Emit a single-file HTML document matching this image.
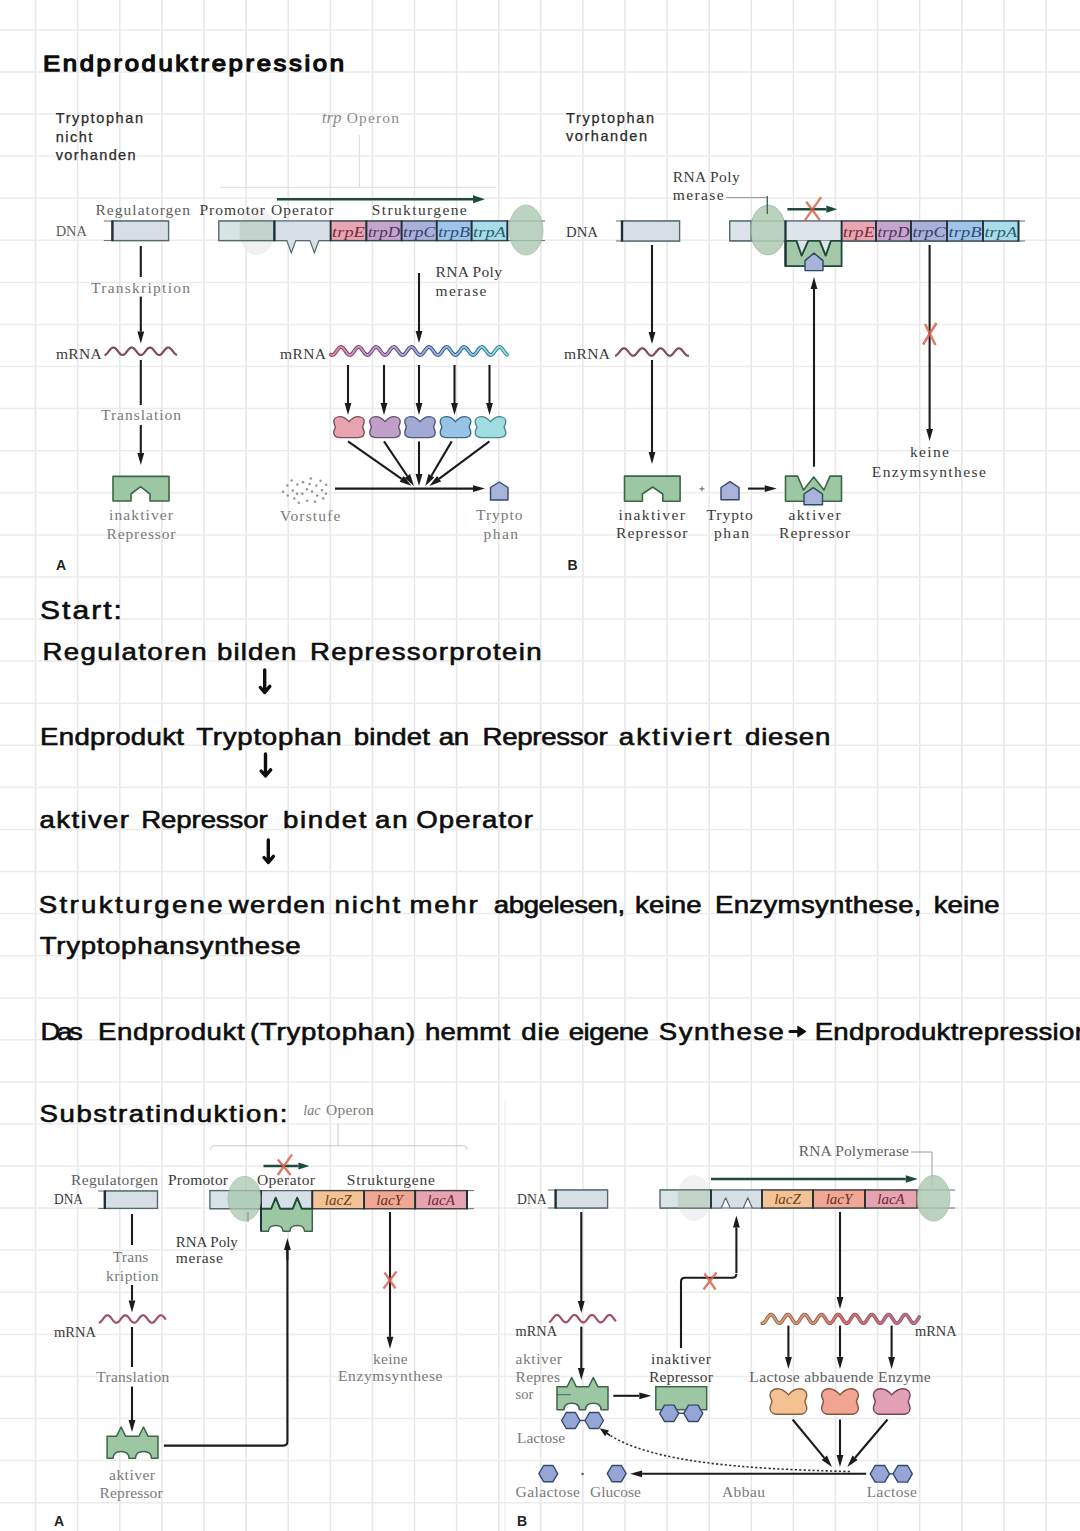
<!DOCTYPE html>
<html><head><meta charset="utf-8"><title>Endproduktrepression</title>
<style>
html,body{margin:0;padding:0;background:#fff;width:1080px;height:1531px;overflow:hidden}
svg{display:block}
.hw{font-family:"Liberation Sans",sans-serif;font-weight:normal;fill:#0d0d0d;font-size:23px;stroke:#0d0d0d;stroke-width:0.6px;stroke-linejoin:round;stroke-linecap:round}
.lb{font-family:"Liberation Serif",serif;fill:#5e5e5e;font-size:15.5px}
.dk{fill:#3a3a3a}
.lt{fill:#7a7a7a}
.lbi{font-family:"Liberation Serif",serif;font-style:italic;font-size:14px}
.ls{font-family:"Liberation Sans",sans-serif;fill:#2a2a2a;font-size:14.5px;stroke:#2a2a2a;stroke-width:0.25px}
.bl{font-family:"Liberation Sans",sans-serif;font-weight:bold;fill:#222;font-size:14px}
</style></head><body>
<svg width="1080" height="1531" viewBox="0 0 1080 1531">
<rect width="1080" height="1531" fill="#fff"/>
<g fill="none">
<path d="M35.6 0V1531M77.7 0V1531M119.8 0V1531M161.9 0V1531M204.0 0V1531M246.1 0V1531M288.2 0V1531M330.3 0V1531M372.4 0V1531M414.5 0V1531M456.6 0V1531M498.7 0V1531M540.8 0V1531M582.9 0V1531M625.0 0V1531M667.1 0V1531M709.2 0V1531M751.3 0V1531M793.4 0V1531M835.5 0V1531M877.6 0V1531M919.7 0V1531M961.8 0V1531M1003.9 0V1531M1046.0 0V1531" stroke="#e6e6e6" stroke-width="1.5"/>
<path d="M0 29.9H1080M0 72.0H1080M0 114.1H1080M0 156.1H1080M0 198.2H1080M0 240.3H1080M0 282.4H1080M0 324.5H1080M0 366.5H1080M0 408.6H1080M0 450.7H1080M0 492.8H1080M0 534.9H1080M0 576.9H1080M0 619.0H1080M0 661.1H1080M0 703.2H1080M0 745.3H1080M0 787.3H1080M0 829.4H1080M0 871.5H1080M0 913.6H1080M0 955.7H1080M0 997.7H1080M0 1039.8H1080M0 1081.9H1080M0 1124.0H1080M0 1166.1H1080M0 1208.1H1080M0 1250.2H1080M0 1292.3H1080M0 1334.4H1080M0 1376.5H1080M0 1418.5H1080M0 1460.6H1080M0 1502.7H1080" stroke="#ebebeb" stroke-width="1.5"/>
</g>
<ellipse cx="257" cy="231" rx="18" ry="24" fill="#eeeeee" opacity="0.8"/>
<ellipse cx="694" cy="1198" rx="17" ry="23" fill="#ededed" opacity="0.8"/>
<g class="hw">
<text transform="translate(43 70.8) scale(1.12 1)" x="0" y="0" textLength="268.8" lengthAdjust="spacing" style="stroke-width:1.3px">Endproduktrepression</text>
<text transform="translate(40 619) scale(1.2 1)" x="0" y="0" textLength="68.3" lengthAdjust="spacing" style="font-size:25px">Start:</text>
<text transform="translate(42.5 660.2) scale(1.2 1)" x="0" y="0" textLength="136.7" lengthAdjust="spacing">Regulatoren</text>
<text transform="translate(217 660.2) scale(1.2 1)" x="0" y="0" textLength="66.2" lengthAdjust="spacing">bilden</text>
<text transform="translate(310 660.2) scale(1.2 1)" x="0" y="0" textLength="192.9" lengthAdjust="spacing">Repressorprotein</text>
<text transform="translate(40 745.3) scale(1.2 1)" x="0" y="0" textLength="120.0" lengthAdjust="spacing">Endprodukt</text>
<text transform="translate(196.3 745.3) scale(1.2 1)" x="0" y="0" textLength="121.0" lengthAdjust="spacing">Tryptophan</text>
<text transform="translate(353.8 745.3) scale(1.2 1)" x="0" y="0" textLength="63.5" lengthAdjust="spacing">bindet</text>
<text transform="translate(438.8 745.3) scale(1.2 1)" x="0" y="0" textLength="25.2" lengthAdjust="spacing">an</text>
<text transform="translate(482.5 745.3) scale(1.2 1)" x="0" y="0" textLength="104.3" lengthAdjust="spacing">Repressor</text>
<text transform="translate(618.8 745.3) scale(1.2 1)" x="0" y="0" textLength="93.9" lengthAdjust="spacing">aktiviert</text>
<text transform="translate(745 745.3) scale(1.2 1)" x="0" y="0" textLength="71.1" lengthAdjust="spacing">diesen</text>
<text transform="translate(39.5 828.3) scale(1.2 1)" x="0" y="0" textLength="74.6" lengthAdjust="spacing">aktiver</text>
<text transform="translate(141.3 828.3) scale(1.2 1)" x="0" y="0" textLength="105.3" lengthAdjust="spacing">Repressor</text>
<text transform="translate(283 828.3) scale(1.2 1)" x="0" y="0" textLength="69.6" lengthAdjust="spacing">bindet</text>
<text transform="translate(375 828.3) scale(1.2 1)" x="0" y="0" textLength="27.2" lengthAdjust="spacing">an</text>
<text transform="translate(416.3 828.3) scale(1.2 1)" x="0" y="0" textLength="97.2" lengthAdjust="spacing">Operator</text>
<text transform="translate(38.8 912.8) scale(1.2 1)" x="0" y="0" textLength="153.2" lengthAdjust="spacing">Strukturgene</text>
<text transform="translate(228.8 912.8) scale(1.2 1)" x="0" y="0" textLength="80.3" lengthAdjust="spacing">werden</text>
<text transform="translate(334.5 912.8) scale(1.2 1)" x="0" y="0" textLength="54.7" lengthAdjust="spacing">nicht</text>
<text transform="translate(409.5 912.8) scale(1.2 1)" x="0" y="0" textLength="56.8" lengthAdjust="spacing">mehr</text>
<text transform="translate(493.8 912.8) scale(1.2 1)" x="0" y="0" textLength="109.5" lengthAdjust="spacing">abgelesen,</text>
<text transform="translate(635 912.8) scale(1.2 1)" x="0" y="0" textLength="55.4" lengthAdjust="spacing">keine</text>
<text transform="translate(715 912.8) scale(1.2 1)" x="0" y="0" textLength="172.1" lengthAdjust="spacing">Enzymsynthese,</text>
<text transform="translate(933.8 912.8) scale(1.2 1)" x="0" y="0" textLength="54.9" lengthAdjust="spacing">keine</text>
<text transform="translate(39.7 953.6) scale(1.2 1)" x="0" y="0" textLength="217.5" lengthAdjust="spacing">Tryptophansynthese</text>
<text transform="translate(40.5 1040.2) scale(1.2 1)" x="0" y="0" textLength="35.2" lengthAdjust="spacing">Das</text>
<text transform="translate(98 1040.2) scale(1.2 1)" x="0" y="0" textLength="122.2" lengthAdjust="spacing">Endprodukt</text>
<text transform="translate(250 1040.2) scale(1.2 1)" x="0" y="0" textLength="137.7" lengthAdjust="spacing">(Tryptophan)</text>
<text transform="translate(425 1040.2) scale(1.2 1)" x="0" y="0" textLength="71.0" lengthAdjust="spacing">hemmt</text>
<text transform="translate(521.3 1040.2) scale(1.2 1)" x="0" y="0" textLength="32.0" lengthAdjust="spacing">die</text>
<text transform="translate(568.8 1040.2) scale(1.2 1)" x="0" y="0" textLength="66.8" lengthAdjust="spacing">eigene</text>
<text transform="translate(658.8 1040.2) scale(1.2 1)" x="0" y="0" textLength="104.3" lengthAdjust="spacing">Synthese</text>
<text transform="translate(814.7 1040.2) scale(1.2 1)" x="0" y="0" textLength="229.4" lengthAdjust="spacing">Endproduktrepression</text>
<text transform="translate(39.5 1122.3) scale(1.2 1)" x="0" y="0" textLength="206.7" lengthAdjust="spacing">Substratinduktion:</text>
</g>
<path d="M790 1031.5H800" stroke="#0d0d0d" stroke-width="3" stroke-linecap="round"/><path d="M798 1026.5L805.5 1031.5L798 1036.5Z" fill="#0d0d0d" stroke="#0d0d0d" stroke-width="1.5" stroke-linejoin="round"/>
<g stroke="#0d0d0d" stroke-width="3.4" fill="none" stroke-linecap="round" stroke-linejoin="round"><path d="M264.7 670V692.5M260.4 687.5L264.7 692.5L269.8 686.4"/><path d="M265.5 754V776M261.2 771L265.5 776L270.6 769.9"/><path d="M268.3 840V862.5M264 857.5L268.3 862.5L273.4 856.4"/></g>
<text x="55.7" y="123" class="ls" textLength="87.3">Tryptophan</text>
<text x="55.7" y="141.5" class="ls" textLength="36.7">nicht</text>
<text x="55.7" y="159.5" class="ls" textLength="80">vorhanden</text>
<text x="321.7" y="123.3" class="lbi" fill="#8a8a8a" style="font-size:16px" textLength="20" lengthAdjust="spacingAndGlyphs">trp</text>
<path d="M359.3 135V187.3M220 187.3H496.7" stroke="#dadada" stroke-width="1" fill="none"/>
<path d="M277.0 199.3L473.0 199.3" stroke="#1d4a3a" stroke-width="2.6" fill="none"/><path d="M473.0 203.3L485.0 199.3L473.0 195.3Z" fill="#1d4a3a"/>
<path d="M103.8 221H168.6M103.8 240.6H168.6" stroke="#5a7075" stroke-width="1.0" fill="none"/>
<rect x="112.4" y="221" width="56.19999999999999" height="19.599999999999994" fill="#d6dfe6" stroke="#55686b" stroke-width="1.4"/>
<path d="M112.4 220.5V241.1" stroke="#1f3138" stroke-width="2.4"/>
<path d="M218.8 221H545M218.8 240.6H545" stroke="#5a7075" stroke-width="1.0" fill="none"/>
<rect x="218.8" y="221" width="55.599999999999966" height="19.599999999999994" fill="#d7e4e4" stroke="#55686b" stroke-width="1.4"/>
<rect x="239.7" y="221.7" width="34.2" height="18.2" fill="#b9cdc3" opacity="0.7"/>
<path d="M274.4 221H330.6V240.6H318.9L314.4 252.8L309.9 240.6H295.8L291.3 252.8L286.8 240.6H274.4Z" fill="#d6dfe6" stroke="#55686b" stroke-width="1.2"/>
<path d="M274.4 220.5V241.1" stroke="#1f3138" stroke-width="2.4"/>
<rect x="330.6" y="221" width="35.799999999999955" height="19.599999999999994" fill="#e8a6b3" stroke="#3a4a55" stroke-width="1.4"/>
<text x="348.5" y="236.5" class="lbi" text-anchor="middle" fill="#7a2a3a" style="font-size:15px" textLength="32.8" lengthAdjust="spacingAndGlyphs">trpE</text>
<rect x="366.4" y="221" width="35.200000000000045" height="19.599999999999994" fill="#c4a6cc" stroke="#3a4a55" stroke-width="1.4"/>
<text x="384.0" y="236.5" class="lbi" text-anchor="middle" fill="#55305f" style="font-size:15px" textLength="32.2" lengthAdjust="spacingAndGlyphs">trpD</text>
<rect x="401.6" y="221" width="35.099999999999966" height="19.599999999999994" fill="#aab0d8" stroke="#3a4a55" stroke-width="1.4"/>
<text x="419.1" y="236.5" class="lbi" text-anchor="middle" fill="#34406e" style="font-size:15px" textLength="32.1" lengthAdjust="spacingAndGlyphs">trpC</text>
<rect x="436.7" y="221" width="34.900000000000034" height="19.599999999999994" fill="#a0c4e8" stroke="#3a4a55" stroke-width="1.4"/>
<text x="454.1" y="236.5" class="lbi" text-anchor="middle" fill="#27507a" style="font-size:15px" textLength="31.9" lengthAdjust="spacingAndGlyphs">trpB</text>
<rect x="471.6" y="221" width="35.799999999999955" height="19.599999999999994" fill="#a8dce8" stroke="#3a4a55" stroke-width="1.4"/>
<text x="489.5" y="236.5" class="lbi" text-anchor="middle" fill="#245f6a" style="font-size:15px" textLength="32.8" lengthAdjust="spacingAndGlyphs">trpA</text>
<path d="M330.6 220.5V241.1" stroke="#1f3138" stroke-width="1.8"/>
<path d="M366.4 220.5V241.1" stroke="#1f3138" stroke-width="1.8"/>
<path d="M401.6 220.5V241.1" stroke="#1f3138" stroke-width="1.8"/>
<path d="M436.7 220.5V241.1" stroke="#1f3138" stroke-width="1.8"/>
<path d="M471.6 220.5V241.1" stroke="#1f3138" stroke-width="1.8"/>
<path d="M507.4 220.5V241.1" stroke="#1f3138" stroke-width="1.8"/>
<ellipse cx="526" cy="230" rx="17" ry="25" fill="#a9c7ae" opacity="0.78" stroke="#8fb096" stroke-width="0.8"/>
<path d="M140.8 246L140.8 277" stroke="#1b1b1b" stroke-width="2.1" fill="none"/>
<path d="M140.8 296.6V331.6" stroke="#1b1b1b" stroke-width="2.1" fill="none"/><path d="M137.4 331.6L140.8 343.6L144.20000000000002 331.6Z" fill="#1b1b1b"/>
<path d="M104.5,354.99 L105.0,354.88 L105.5,354.66 L106.0,354.34 L106.5,353.94 L107.0,353.45 L107.5,352.90 L108.0,352.30 L108.5,351.67 L109.0,351.02 L109.5,350.39 L110.0,349.78 L110.5,349.21 L111.0,348.70 L111.5,348.27 L112.0,347.92 L112.5,347.68 L113.0,347.54 L113.5,347.50 L114.0,347.58 L114.5,347.76 L115.0,348.05 L115.5,348.43 L116.0,348.90 L116.5,349.43 L117.0,350.02 L117.5,350.64 L118.0,351.28 L118.5,351.92 L119.0,352.54 L119.5,353.12 L120.0,353.65 L120.5,354.11 L121.0,354.48 L121.5,354.76 L122.0,354.93 L122.5,355.00 L123.0,354.96 L123.5,354.80 L124.0,354.54 L124.5,354.19 L125.0,353.75 L125.5,353.24 L126.0,352.66 L126.5,352.05 L127.0,351.41 L127.5,350.77 L128.0,350.14 L128.5,349.54 L129.0,349.00 L129.5,348.52 L130.0,348.12 L130.5,347.81 L131.0,347.61 L131.5,347.51 L132.0,347.52 L132.5,347.64 L133.0,347.87 L133.5,348.19 L134.0,348.61 L134.5,349.10 L135.0,349.66 L135.5,350.26 L136.0,350.90 L136.5,351.54 L137.0,352.17 L137.5,352.78 L138.0,353.34 L138.5,353.84 L139.0,354.27 L139.5,354.60 L140.0,354.84 L140.5,354.97 L141.0,355.00 L141.5,354.91 L142.0,354.71 L142.5,354.41 L143.0,354.02 L143.5,353.55 L144.0,353.01 L144.5,352.42 L145.0,351.80 L145.5,351.15 L146.0,350.51 L146.5,349.90 L147.0,349.32 L147.5,348.80 L148.0,348.35 L148.5,347.99 L149.0,347.72 L149.5,347.56 L150.0,347.50 L150.5,347.56 L151.0,347.72 L151.5,347.99 L152.0,348.35 L152.5,348.80 L153.0,349.32 L153.5,349.90 L154.0,350.51 L154.5,351.15 L155.0,351.80 L155.5,352.42 L156.0,353.01 L156.5,353.55 L157.0,354.02 L157.5,354.41 L158.0,354.71 L158.5,354.91 L159.0,355.00 L159.5,354.97 L160.0,354.84 L160.5,354.60 L161.0,354.27 L161.5,353.84 L162.0,353.34 L162.5,352.78 L163.0,352.17 L163.5,351.54 L164.0,350.90 L164.5,350.26 L165.0,349.66 L165.5,349.10 L166.0,348.61 L166.5,348.19 L167.0,347.87 L167.5,347.64 L168.0,347.52 L168.5,347.51 L169.0,347.61 L169.5,347.81 L170.0,348.12 L170.5,348.52 L171.0,349.00 L171.5,349.54 L172.0,350.14 L172.5,350.77 L173.0,351.41 L173.5,352.05 L174.0,352.66 L174.5,353.24 L175.0,353.75 L175.5,354.19 L176.0,354.54 L176.5,354.80 L177.0,354.96" stroke="#7d4a5e" stroke-width="2.2" fill="none"/>
<path d="M140.8 360L140.8 405" stroke="#1b1b1b" stroke-width="2.1" fill="none"/>
<path d="M140.8 425V453" stroke="#1b1b1b" stroke-width="2.1" fill="none"/><path d="M137.4 453L140.8 465L144.20000000000002 453Z" fill="#1b1b1b"/>
<path d="M113 476.4H169V501H150V494L140.5 486.7L131 494V501H113Z" fill="#9dc6a2" stroke="#3d6648" stroke-width="1.6" stroke-linejoin="round"/>
<text x="56" y="569.5" class="bl">A</text>
<path d="M419 273V331" stroke="#1b1b1b" stroke-width="2.1" fill="none"/><path d="M415.6 331L419 343L422.4 331Z" fill="#1b1b1b"/>
<defs><linearGradient id="gw" x1="331" x2="507" y1="0" y2="0" gradientUnits="userSpaceOnUse"><stop offset="0" stop-color="#e090a8"/><stop offset="0.3" stop-color="#c0a0d0"/><stop offset="0.55" stop-color="#a0b0e0"/><stop offset="0.8" stop-color="#90c8e8"/><stop offset="1" stop-color="#98e0e8"/></linearGradient><linearGradient id="gwd" x1="331" x2="507" y1="0" y2="0" gradientUnits="userSpaceOnUse"><stop offset="0" stop-color="#8a3a58"/><stop offset="0.3" stop-color="#6a4a80"/><stop offset="0.55" stop-color="#3a5088"/><stop offset="0.8" stop-color="#2a6a90"/><stop offset="1" stop-color="#3a8a90"/></linearGradient></defs>
<path d="M331.0,354.64 L331.5,354.88 L332.0,354.99 L332.5,354.98 L333.0,354.84 L333.5,354.58 L334.0,354.20 L334.5,353.73 L335.0,353.16 L335.5,352.53 L336.0,351.85 L336.5,351.14 L337.0,350.43 L337.5,349.74 L338.0,349.08 L338.5,348.49 L339.0,347.98 L339.5,347.56 L340.0,347.25 L340.5,347.06 L341.0,347.00 L341.5,347.06 L342.0,347.25 L342.5,347.56 L343.0,347.98 L343.5,348.49 L344.0,349.08 L344.5,349.74 L345.0,350.43 L345.5,351.14 L346.0,351.85 L346.5,352.53 L347.0,353.16 L347.5,353.73 L348.0,354.20 L348.5,354.58 L349.0,354.84 L349.5,354.98 L350.0,354.99 L350.5,354.88 L351.0,354.64 L351.5,354.29 L352.0,353.83 L352.5,353.28 L353.0,352.66 L353.5,351.99 L354.0,351.29 L354.5,350.57 L355.0,349.87 L355.5,349.21 L356.0,348.60 L356.5,348.07 L357.0,347.63 L357.5,347.30 L358.0,347.09 L358.5,347.00 L359.0,347.04 L359.5,347.20 L360.0,347.49 L360.5,347.89 L361.0,348.38 L361.5,348.96 L362.0,349.60 L362.5,350.29 L363.0,351.00 L363.5,351.71 L364.0,352.40 L364.5,353.04 L365.0,353.62 L365.5,354.11 L366.0,354.51 L366.5,354.80 L367.0,354.96 L367.5,355.00 L368.0,354.91 L368.5,354.70 L369.0,354.37 L369.5,353.93 L370.0,353.40 L370.5,352.79 L371.0,352.13 L371.5,351.43 L372.0,350.71 L372.5,350.01 L373.0,349.34 L373.5,348.72 L374.0,348.17 L374.5,347.71 L375.0,347.36 L375.5,347.12 L376.0,347.01 L376.5,347.02 L377.0,347.16 L377.5,347.42 L378.0,347.80 L378.5,348.27 L379.0,348.84 L379.5,349.47 L380.0,350.15 L380.5,350.86 L381.0,351.57 L381.5,352.26 L382.0,352.92 L382.5,353.51 L383.0,354.02 L383.5,354.44 L384.0,354.75 L384.5,354.94 L385.0,355.00 L385.5,354.94 L386.0,354.75 L386.5,354.44 L387.0,354.02 L387.5,353.51 L388.0,352.92 L388.5,352.26 L389.0,351.57 L389.5,350.86 L390.0,350.15 L390.5,349.47 L391.0,348.84 L391.5,348.27 L392.0,347.80 L392.5,347.42 L393.0,347.16 L393.5,347.02 L394.0,347.01 L394.5,347.12 L395.0,347.36 L395.5,347.71 L396.0,348.17 L396.5,348.72 L397.0,349.34 L397.5,350.01 L398.0,350.71 L398.5,351.43 L399.0,352.13 L399.5,352.79 L400.0,353.40 L400.5,353.93 L401.0,354.37 L401.5,354.70 L402.0,354.91 L402.5,355.00 L403.0,354.96 L403.5,354.80 L404.0,354.51 L404.5,354.11 L405.0,353.62 L405.5,353.04 L406.0,352.40 L406.5,351.71 L407.0,351.00 L407.5,350.29 L408.0,349.60 L408.5,348.96 L409.0,348.38 L409.5,347.89 L410.0,347.49 L410.5,347.20 L411.0,347.04 L411.5,347.00 L412.0,347.09 L412.5,347.30 L413.0,347.63 L413.5,348.07 L414.0,348.60 L414.5,349.21 L415.0,349.87 L415.5,350.57 L416.0,351.29 L416.5,351.99 L417.0,352.66 L417.5,353.28 L418.0,353.83 L418.5,354.29 L419.0,354.64 L419.5,354.88 L420.0,354.99 L420.5,354.98 L421.0,354.84 L421.5,354.58 L422.0,354.20 L422.5,353.73 L423.0,353.16 L423.5,352.53 L424.0,351.85 L424.5,351.14 L425.0,350.43 L425.5,349.74 L426.0,349.08 L426.5,348.49 L427.0,347.98 L427.5,347.56 L428.0,347.25 L428.5,347.06 L429.0,347.00 L429.5,347.06 L430.0,347.25 L430.5,347.56 L431.0,347.98 L431.5,348.49 L432.0,349.08 L432.5,349.74 L433.0,350.43 L433.5,351.14 L434.0,351.85 L434.5,352.53 L435.0,353.16 L435.5,353.73 L436.0,354.20 L436.5,354.58 L437.0,354.84 L437.5,354.98 L438.0,354.99 L438.5,354.88 L439.0,354.64 L439.5,354.29 L440.0,353.83 L440.5,353.28 L441.0,352.66 L441.5,351.99 L442.0,351.29 L442.5,350.57 L443.0,349.87 L443.5,349.21 L444.0,348.60 L444.5,348.07 L445.0,347.63 L445.5,347.30 L446.0,347.09 L446.5,347.00 L447.0,347.04 L447.5,347.20 L448.0,347.49 L448.5,347.89 L449.0,348.38 L449.5,348.96 L450.0,349.60 L450.5,350.29 L451.0,351.00 L451.5,351.71 L452.0,352.40 L452.5,353.04 L453.0,353.62 L453.5,354.11 L454.0,354.51 L454.5,354.80 L455.0,354.96 L455.5,355.00 L456.0,354.91 L456.5,354.70 L457.0,354.37 L457.5,353.93 L458.0,353.40 L458.5,352.79 L459.0,352.13 L459.5,351.43 L460.0,350.71 L460.5,350.01 L461.0,349.34 L461.5,348.72 L462.0,348.17 L462.5,347.71 L463.0,347.36 L463.5,347.12 L464.0,347.01 L464.5,347.02 L465.0,347.16 L465.5,347.42 L466.0,347.80 L466.5,348.27 L467.0,348.84 L467.5,349.47 L468.0,350.15 L468.5,350.86 L469.0,351.57 L469.5,352.26 L470.0,352.92 L470.5,353.51 L471.0,354.02 L471.5,354.44 L472.0,354.75 L472.5,354.94 L473.0,355.00 L473.5,354.94 L474.0,354.75 L474.5,354.44 L475.0,354.02 L475.5,353.51 L476.0,352.92 L476.5,352.26 L477.0,351.57 L477.5,350.86 L478.0,350.15 L478.5,349.47 L479.0,348.84 L479.5,348.27 L480.0,347.80 L480.5,347.42 L481.0,347.16 L481.5,347.02 L482.0,347.01 L482.5,347.12 L483.0,347.36 L483.5,347.71 L484.0,348.17 L484.5,348.72 L485.0,349.34 L485.5,350.01 L486.0,350.71 L486.5,351.43 L487.0,352.13 L487.5,352.79 L488.0,353.40 L488.5,353.93 L489.0,354.37 L489.5,354.70 L490.0,354.91 L490.5,355.00 L491.0,354.96 L491.5,354.80 L492.0,354.51 L492.5,354.11 L493.0,353.62 L493.5,353.04 L494.0,352.40 L494.5,351.71 L495.0,351.00 L495.5,350.29 L496.0,349.60 L496.5,348.96 L497.0,348.38 L497.5,347.89 L498.0,347.49 L498.5,347.20 L499.0,347.04 L499.5,347.00 L500.0,347.09 L500.5,347.30 L501.0,347.63 L501.5,348.07 L502.0,348.60 L502.5,349.21 L503.0,349.87 L503.5,350.57 L504.0,351.29 L504.5,351.99 L505.0,352.66 L505.5,353.28 L506.0,353.83 L506.5,354.29 L507.0,354.64" stroke="url(#gwd)" stroke-width="3.8" fill="none" stroke-linecap="round"/>
<path d="M331.0,354.64 L331.5,354.88 L332.0,354.99 L332.5,354.98 L333.0,354.84 L333.5,354.58 L334.0,354.20 L334.5,353.73 L335.0,353.16 L335.5,352.53 L336.0,351.85 L336.5,351.14 L337.0,350.43 L337.5,349.74 L338.0,349.08 L338.5,348.49 L339.0,347.98 L339.5,347.56 L340.0,347.25 L340.5,347.06 L341.0,347.00 L341.5,347.06 L342.0,347.25 L342.5,347.56 L343.0,347.98 L343.5,348.49 L344.0,349.08 L344.5,349.74 L345.0,350.43 L345.5,351.14 L346.0,351.85 L346.5,352.53 L347.0,353.16 L347.5,353.73 L348.0,354.20 L348.5,354.58 L349.0,354.84 L349.5,354.98 L350.0,354.99 L350.5,354.88 L351.0,354.64 L351.5,354.29 L352.0,353.83 L352.5,353.28 L353.0,352.66 L353.5,351.99 L354.0,351.29 L354.5,350.57 L355.0,349.87 L355.5,349.21 L356.0,348.60 L356.5,348.07 L357.0,347.63 L357.5,347.30 L358.0,347.09 L358.5,347.00 L359.0,347.04 L359.5,347.20 L360.0,347.49 L360.5,347.89 L361.0,348.38 L361.5,348.96 L362.0,349.60 L362.5,350.29 L363.0,351.00 L363.5,351.71 L364.0,352.40 L364.5,353.04 L365.0,353.62 L365.5,354.11 L366.0,354.51 L366.5,354.80 L367.0,354.96 L367.5,355.00 L368.0,354.91 L368.5,354.70 L369.0,354.37 L369.5,353.93 L370.0,353.40 L370.5,352.79 L371.0,352.13 L371.5,351.43 L372.0,350.71 L372.5,350.01 L373.0,349.34 L373.5,348.72 L374.0,348.17 L374.5,347.71 L375.0,347.36 L375.5,347.12 L376.0,347.01 L376.5,347.02 L377.0,347.16 L377.5,347.42 L378.0,347.80 L378.5,348.27 L379.0,348.84 L379.5,349.47 L380.0,350.15 L380.5,350.86 L381.0,351.57 L381.5,352.26 L382.0,352.92 L382.5,353.51 L383.0,354.02 L383.5,354.44 L384.0,354.75 L384.5,354.94 L385.0,355.00 L385.5,354.94 L386.0,354.75 L386.5,354.44 L387.0,354.02 L387.5,353.51 L388.0,352.92 L388.5,352.26 L389.0,351.57 L389.5,350.86 L390.0,350.15 L390.5,349.47 L391.0,348.84 L391.5,348.27 L392.0,347.80 L392.5,347.42 L393.0,347.16 L393.5,347.02 L394.0,347.01 L394.5,347.12 L395.0,347.36 L395.5,347.71 L396.0,348.17 L396.5,348.72 L397.0,349.34 L397.5,350.01 L398.0,350.71 L398.5,351.43 L399.0,352.13 L399.5,352.79 L400.0,353.40 L400.5,353.93 L401.0,354.37 L401.5,354.70 L402.0,354.91 L402.5,355.00 L403.0,354.96 L403.5,354.80 L404.0,354.51 L404.5,354.11 L405.0,353.62 L405.5,353.04 L406.0,352.40 L406.5,351.71 L407.0,351.00 L407.5,350.29 L408.0,349.60 L408.5,348.96 L409.0,348.38 L409.5,347.89 L410.0,347.49 L410.5,347.20 L411.0,347.04 L411.5,347.00 L412.0,347.09 L412.5,347.30 L413.0,347.63 L413.5,348.07 L414.0,348.60 L414.5,349.21 L415.0,349.87 L415.5,350.57 L416.0,351.29 L416.5,351.99 L417.0,352.66 L417.5,353.28 L418.0,353.83 L418.5,354.29 L419.0,354.64 L419.5,354.88 L420.0,354.99 L420.5,354.98 L421.0,354.84 L421.5,354.58 L422.0,354.20 L422.5,353.73 L423.0,353.16 L423.5,352.53 L424.0,351.85 L424.5,351.14 L425.0,350.43 L425.5,349.74 L426.0,349.08 L426.5,348.49 L427.0,347.98 L427.5,347.56 L428.0,347.25 L428.5,347.06 L429.0,347.00 L429.5,347.06 L430.0,347.25 L430.5,347.56 L431.0,347.98 L431.5,348.49 L432.0,349.08 L432.5,349.74 L433.0,350.43 L433.5,351.14 L434.0,351.85 L434.5,352.53 L435.0,353.16 L435.5,353.73 L436.0,354.20 L436.5,354.58 L437.0,354.84 L437.5,354.98 L438.0,354.99 L438.5,354.88 L439.0,354.64 L439.5,354.29 L440.0,353.83 L440.5,353.28 L441.0,352.66 L441.5,351.99 L442.0,351.29 L442.5,350.57 L443.0,349.87 L443.5,349.21 L444.0,348.60 L444.5,348.07 L445.0,347.63 L445.5,347.30 L446.0,347.09 L446.5,347.00 L447.0,347.04 L447.5,347.20 L448.0,347.49 L448.5,347.89 L449.0,348.38 L449.5,348.96 L450.0,349.60 L450.5,350.29 L451.0,351.00 L451.5,351.71 L452.0,352.40 L452.5,353.04 L453.0,353.62 L453.5,354.11 L454.0,354.51 L454.5,354.80 L455.0,354.96 L455.5,355.00 L456.0,354.91 L456.5,354.70 L457.0,354.37 L457.5,353.93 L458.0,353.40 L458.5,352.79 L459.0,352.13 L459.5,351.43 L460.0,350.71 L460.5,350.01 L461.0,349.34 L461.5,348.72 L462.0,348.17 L462.5,347.71 L463.0,347.36 L463.5,347.12 L464.0,347.01 L464.5,347.02 L465.0,347.16 L465.5,347.42 L466.0,347.80 L466.5,348.27 L467.0,348.84 L467.5,349.47 L468.0,350.15 L468.5,350.86 L469.0,351.57 L469.5,352.26 L470.0,352.92 L470.5,353.51 L471.0,354.02 L471.5,354.44 L472.0,354.75 L472.5,354.94 L473.0,355.00 L473.5,354.94 L474.0,354.75 L474.5,354.44 L475.0,354.02 L475.5,353.51 L476.0,352.92 L476.5,352.26 L477.0,351.57 L477.5,350.86 L478.0,350.15 L478.5,349.47 L479.0,348.84 L479.5,348.27 L480.0,347.80 L480.5,347.42 L481.0,347.16 L481.5,347.02 L482.0,347.01 L482.5,347.12 L483.0,347.36 L483.5,347.71 L484.0,348.17 L484.5,348.72 L485.0,349.34 L485.5,350.01 L486.0,350.71 L486.5,351.43 L487.0,352.13 L487.5,352.79 L488.0,353.40 L488.5,353.93 L489.0,354.37 L489.5,354.70 L490.0,354.91 L490.5,355.00 L491.0,354.96 L491.5,354.80 L492.0,354.51 L492.5,354.11 L493.0,353.62 L493.5,353.04 L494.0,352.40 L494.5,351.71 L495.0,351.00 L495.5,350.29 L496.0,349.60 L496.5,348.96 L497.0,348.38 L497.5,347.89 L498.0,347.49 L498.5,347.20 L499.0,347.04 L499.5,347.00 L500.0,347.09 L500.5,347.30 L501.0,347.63 L501.5,348.07 L502.0,348.60 L502.5,349.21 L503.0,349.87 L503.5,350.57 L504.0,351.29 L504.5,351.99 L505.0,352.66 L505.5,353.28 L506.0,353.83 L506.5,354.29 L507.0,354.64" stroke="url(#gw)" stroke-width="1.8" fill="none" stroke-linecap="round"/>
<path d="M348 365V403" stroke="#1b1b1b" stroke-width="2.1" fill="none"/><path d="M344.6 403L348 415L351.4 403Z" fill="#1b1b1b"/>
<path d="M384 365V403" stroke="#1b1b1b" stroke-width="2.1" fill="none"/><path d="M380.6 403L384 415L387.4 403Z" fill="#1b1b1b"/>
<path d="M419 365V403" stroke="#1b1b1b" stroke-width="2.1" fill="none"/><path d="M415.6 403L419 415L422.4 403Z" fill="#1b1b1b"/>
<path d="M454.5 365V403" stroke="#1b1b1b" stroke-width="2.1" fill="none"/><path d="M451.1 403L454.5 415L457.9 403Z" fill="#1b1b1b"/>
<path d="M489.5 365V403" stroke="#1b1b1b" stroke-width="2.1" fill="none"/><path d="M486.1 403L489.5 415L492.9 403Z" fill="#1b1b1b"/>
<path d="M349.0,421.6 C352.1,418.1 355.1,416.6 358.1,416.6 C362.2,416.6 364.2,419.1 364.2,421.6 C364.2,424.1 362.7,425.6 362.7,427.1 C362.7,428.6 364.2,430.1 364.2,432.6 C364.2,436.1 361.2,437.6 358.1,437.6 L339.9,437.6 C336.8,437.6 333.8,436.1 333.8,432.6 C333.8,430.1 335.3,428.6 335.3,427.1 C335.3,425.6 333.8,424.1 333.8,421.6 C333.8,419.1 335.8,416.6 339.9,416.6 C342.9,416.6 345.9,418.1 349.0,421.6Z" fill="#e8a3b0" stroke="#7a5060" stroke-width="1.4"/>
<path d="M385.0,421.6 C388.1,418.1 391.1,416.6 394.1,416.6 C398.2,416.6 400.2,419.1 400.2,421.6 C400.2,424.1 398.7,425.6 398.7,427.1 C398.7,428.6 400.2,430.1 400.2,432.6 C400.2,436.1 397.2,437.6 394.1,437.6 L375.9,437.6 C372.8,437.6 369.8,436.1 369.8,432.6 C369.8,430.1 371.3,428.6 371.3,427.1 C371.3,425.6 369.8,424.1 369.8,421.6 C369.8,419.1 371.8,416.6 375.9,416.6 C378.9,416.6 381.9,418.1 385.0,421.6Z" fill="#c0a0c8" stroke="#6a5070" stroke-width="1.4"/>
<path d="M420.0,421.6 C423.1,418.1 426.1,416.6 429.1,416.6 C433.2,416.6 435.2,419.1 435.2,421.6 C435.2,424.1 433.7,425.6 433.7,427.1 C433.7,428.6 435.2,430.1 435.2,432.6 C435.2,436.1 432.2,437.6 429.1,437.6 L410.9,437.6 C407.8,437.6 404.8,436.1 404.8,432.6 C404.8,430.1 406.3,428.6 406.3,427.1 C406.3,425.6 404.8,424.1 404.8,421.6 C404.8,419.1 406.8,416.6 410.9,416.6 C413.9,416.6 416.9,418.1 420.0,421.6Z" fill="#a0aad5" stroke="#4a5a80" stroke-width="1.4"/>
<path d="M455.5,421.6 C458.6,418.1 461.6,416.6 464.6,416.6 C468.7,416.6 470.8,419.1 470.8,421.6 C470.8,424.1 469.2,425.6 469.2,427.1 C469.2,428.6 470.8,430.1 470.8,432.6 C470.8,436.1 467.7,437.6 464.6,437.6 L446.4,437.6 C443.3,437.6 440.2,436.1 440.2,432.6 C440.2,430.1 441.8,428.6 441.8,427.1 C441.8,425.6 440.2,424.1 440.2,421.6 C440.2,419.1 442.3,416.6 446.4,416.6 C449.4,416.6 452.4,418.1 455.5,421.6Z" fill="#98c3e5" stroke="#3a6a8a" stroke-width="1.4"/>
<path d="M490.5,421.6 C493.6,418.1 496.6,416.6 499.6,416.6 C503.7,416.6 505.8,419.1 505.8,421.6 C505.8,424.1 504.2,425.6 504.2,427.1 C504.2,428.6 505.8,430.1 505.8,432.6 C505.8,436.1 502.7,437.6 499.6,437.6 L481.4,437.6 C478.3,437.6 475.2,436.1 475.2,432.6 C475.2,430.1 476.8,428.6 476.8,427.1 C476.8,425.6 475.2,424.1 475.2,421.6 C475.2,419.1 477.3,416.6 481.4,416.6 C484.4,416.6 487.4,418.1 490.5,421.6Z" fill="#a0dce0" stroke="#4a8a90" stroke-width="1.4"/>
<path d="M348.0 441.4L401.6 478.9" stroke="#1b1b1b" stroke-width="2.1" fill="none"/><path d="M399.6 481.7L411.4 485.8L403.5 476.1Z" fill="#1b1b1b"/>
<path d="M384.0 441.4L407.3 476.0" stroke="#1b1b1b" stroke-width="2.1" fill="none"/><path d="M404.5 477.9L414.0 486.0L410.1 474.1Z" fill="#1b1b1b"/>
<path d="M419.0 441.4L419.0 474.0" stroke="#1b1b1b" stroke-width="2.1" fill="none"/><path d="M415.6 474.0L419.0 486.0L422.4 474.0Z" fill="#1b1b1b"/>
<path d="M451.7 441.4L431.4 475.7" stroke="#1b1b1b" stroke-width="2.1" fill="none"/><path d="M428.5 473.9L425.3 486.0L434.3 477.4Z" fill="#1b1b1b"/>
<path d="M489.4 441.4L439.0 478.8" stroke="#1b1b1b" stroke-width="2.1" fill="none"/><path d="M437.0 476.1L429.4 486.0L441.1 481.6Z" fill="#1b1b1b"/>
<path d="M335.0 488.6L473.0 488.6" stroke="#1b1b1b" stroke-width="2.1" fill="none"/><path d="M473.0 492.0L485.0 488.6L473.0 485.2Z" fill="#1b1b1b"/>
<path d="M499.25 482L508 487.5V500H490.5V487.5Z" fill="#a7b3d9" stroke="#34456b" stroke-width="1.4" stroke-linejoin="round"/>
<circle cx="291.6" cy="480.5" r="1.25" fill="#959595"/><circle cx="287.3" cy="485.5" r="1.25" fill="#959595"/><circle cx="283.1" cy="491.7" r="1.25" fill="#959595"/><circle cx="287.7" cy="495.6" r="1.25" fill="#959595"/><circle cx="292.8" cy="490.5" r="1.25" fill="#959595"/><circle cx="297.3" cy="484.6" r="1.25" fill="#959595"/><circle cx="303" cy="482.3" r="1.25" fill="#959595"/><circle cx="297" cy="493.7" r="1.25" fill="#959595"/><circle cx="302.4" cy="493.7" r="1.25" fill="#959595"/><circle cx="294.3" cy="498.6" r="1.25" fill="#959595"/><circle cx="298.8" cy="502.8" r="1.25" fill="#959595"/><circle cx="306.9" cy="489.2" r="1.25" fill="#959595"/><circle cx="309.6" cy="484" r="1.25" fill="#959595"/><circle cx="310.8" cy="478.6" r="1.25" fill="#959595"/><circle cx="312" cy="491.6" r="1.25" fill="#959595"/><circle cx="307.2" cy="500.7" r="1.25" fill="#959595"/><circle cx="315" cy="501.8" r="1.25" fill="#959595"/><circle cx="317.2" cy="495.6" r="1.25" fill="#959595"/><circle cx="316.3" cy="485.5" r="1.25" fill="#959595"/><circle cx="320.5" cy="480.7" r="1.25" fill="#959595"/><circle cx="326.2" cy="484.8" r="1.25" fill="#959595"/><circle cx="325.9" cy="493.8" r="1.25" fill="#959595"/><circle cx="323.2" cy="498.6" r="1.25" fill="#959595"/><circle cx="322" cy="490.2" r="1.25" fill="#959595"/>
<text x="566" y="123" class="ls" textLength="88">Tryptophan</text>
<text x="566" y="141" class="ls" textLength="81">vorhanden</text>
<path d="M726 197.5H767.3V214" stroke="#9a9a9a" stroke-width="1" fill="none"/>
<path d="M616 221H680M616 241H680" stroke="#5a7075" stroke-width="1.0" fill="none"/>
<rect x="622" y="221" width="57.60000000000002" height="20" fill="#d6dfe6" stroke="#55686b" stroke-width="1.4"/>
<path d="M622 220.5V241.5" stroke="#1f3138" stroke-width="2.4"/>
<path d="M729.6 221H1025M729.6 241H1025" stroke="#5a7075" stroke-width="1.0" fill="none"/>
<rect x="729.7" y="221" width="21.399999999999977" height="19.80000000000001" fill="#dbe4ea" stroke="#55686b" stroke-width="1.4"/>
<ellipse cx="768" cy="230" rx="17.5" ry="24.8" fill="#a9c8ae" opacity="0.8" stroke="#7fa088" stroke-width="0.8"/>
<path d="M767.3 196V214" stroke="#3a5a48" stroke-width="1.2"/>
<rect x="785.5" y="221" width="56.1" height="19.8" fill="#dde5ea" stroke="#55686b" stroke-width="1.2"/>
<path d="M785.5 240.8H796.5L801.7 255.5L808.2 240.8H819.8L825.7 255.5L830.8 240.8H841.6V266.2H785.5Z" fill="#a3c7a8" stroke="#1f4a3a" stroke-width="1.8" stroke-linejoin="round"/>
<path d="M796.5 240.8L801.7 255.5L808.2 240.8M819.8 240.8L825.7 255.5L830.8 240.8" fill="#dde5ea" stroke="#1f4a3a" stroke-width="1.8" stroke-linejoin="round"/>
<path d="M814.0 253.1L823 260.6V270.6H805V260.6Z" fill="#a7b3d9" stroke="#2a4a5a" stroke-width="1.4" stroke-linejoin="round"/>
<path d="M785.5 220.5V266.2" stroke="#1f3138" stroke-width="2.2"/>
<rect x="841.6" y="221" width="34.39999999999998" height="20" fill="#e8a6b3" stroke="#3a4a55" stroke-width="1.4"/>
<text x="858.8" y="236.8" class="lbi" text-anchor="middle" fill="#7a2a3a" style="font-size:15px" textLength="31.4" lengthAdjust="spacingAndGlyphs">trpE</text>
<rect x="876" y="221" width="35" height="20" fill="#c4a6cc" stroke="#3a4a55" stroke-width="1.4"/>
<text x="893.5" y="236.8" class="lbi" text-anchor="middle" fill="#55305f" style="font-size:15px" textLength="32.0" lengthAdjust="spacingAndGlyphs">trpD</text>
<rect x="911" y="221" width="36" height="20" fill="#aab0d8" stroke="#3a4a55" stroke-width="1.4"/>
<text x="929.0" y="236.8" class="lbi" text-anchor="middle" fill="#34406e" style="font-size:15px" textLength="33.0" lengthAdjust="spacingAndGlyphs">trpC</text>
<rect x="947" y="221" width="36" height="20" fill="#a0c4e8" stroke="#3a4a55" stroke-width="1.4"/>
<text x="965.0" y="236.8" class="lbi" text-anchor="middle" fill="#27507a" style="font-size:15px" textLength="33.0" lengthAdjust="spacingAndGlyphs">trpB</text>
<rect x="983" y="221" width="35.5" height="20" fill="#a8dce8" stroke="#3a4a55" stroke-width="1.4"/>
<text x="1000.8" y="236.8" class="lbi" text-anchor="middle" fill="#245f6a" style="font-size:15px" textLength="32.5" lengthAdjust="spacingAndGlyphs">trpA</text>
<path d="M841.6 220.5V241.5" stroke="#1f3138" stroke-width="1.8"/>
<path d="M876 220.5V241.5" stroke="#1f3138" stroke-width="1.8"/>
<path d="M911 220.5V241.5" stroke="#1f3138" stroke-width="1.8"/>
<path d="M947 220.5V241.5" stroke="#1f3138" stroke-width="1.8"/>
<path d="M983 220.5V241.5" stroke="#1f3138" stroke-width="1.8"/>
<path d="M1018.5 220.5V241.5" stroke="#1f3138" stroke-width="1.8"/>
<path d="M787.4 209.2L826.3 209.2" stroke="#1d4a3a" stroke-width="2.4" fill="none"/><path d="M826.3 212.8L837.3 209.2L826.3 205.6Z" fill="#1d4a3a"/>
<path d="M804.3 221.1L821.1 197.1M806.2 201.7L819.8 220" stroke="#d9604a" stroke-width="2.3" opacity="0.85" fill="none"/>
<path d="M652 245L652 277" stroke="#1b1b1b" stroke-width="2.1" fill="none"/>
<path d="M652 277V332" stroke="#1b1b1b" stroke-width="2.1" fill="none"/><path d="M648.6 332L652 344L655.4 332Z" fill="#1b1b1b"/>
<path d="M615.0,355.75 L615.5,355.66 L616.0,355.46 L616.5,355.16 L617.0,354.77 L617.5,354.30 L618.0,353.76 L618.5,353.17 L619.0,352.55 L619.5,351.90 L620.0,351.26 L620.5,350.65 L621.0,350.07 L621.5,349.55 L622.0,349.10 L622.5,348.74 L623.0,348.47 L623.5,348.31 L624.0,348.25 L624.5,348.31 L625.0,348.47 L625.5,348.74 L626.0,349.10 L626.5,349.55 L627.0,350.07 L627.5,350.65 L628.0,351.26 L628.5,351.90 L629.0,352.55 L629.5,353.17 L630.0,353.76 L630.5,354.30 L631.0,354.77 L631.5,355.16 L632.0,355.46 L632.5,355.66 L633.0,355.75 L633.5,355.72 L634.0,355.59 L634.5,355.35 L635.0,355.02 L635.5,354.59 L636.0,354.09 L636.5,353.53 L637.0,352.92 L637.5,352.29 L638.0,351.65 L638.5,351.01 L639.0,350.41 L639.5,349.85 L640.0,349.36 L640.5,348.94 L641.0,348.62 L641.5,348.39 L642.0,348.27 L642.5,348.26 L643.0,348.36 L643.5,348.56 L644.0,348.87 L644.5,349.27 L645.0,349.75 L645.5,350.29 L646.0,350.89 L646.5,351.52 L647.0,352.16 L647.5,352.80 L648.0,353.41 L648.5,353.99 L649.0,354.50 L649.5,354.94 L650.0,355.29 L650.5,355.55 L651.0,355.71 L651.5,355.75 L652.0,355.68 L652.5,355.51 L653.0,355.23 L653.5,354.86 L654.0,354.40 L654.5,353.88 L655.0,353.29 L655.5,352.67 L656.0,352.03 L656.5,351.39 L657.0,350.77 L657.5,350.18 L658.0,349.65 L658.5,349.18 L659.0,348.80 L659.5,348.51 L660.0,348.33 L660.5,348.25 L661.0,348.29 L661.5,348.43 L662.0,348.67 L662.5,349.02 L663.0,349.45 L663.5,349.96 L664.0,350.53 L664.5,351.14 L665.0,351.77 L665.5,352.42 L666.0,353.05 L666.5,353.65 L667.0,354.20 L667.5,354.69 L668.0,355.09 L668.5,355.41 L669.0,355.63 L669.5,355.74 L670.0,355.74 L670.5,355.63 L671.0,355.41 L671.5,355.09 L672.0,354.69 L672.5,354.20 L673.0,353.65 L673.5,353.05 L674.0,352.42 L674.5,351.77 L675.0,351.14 L675.5,350.53 L676.0,349.96 L676.5,349.45 L677.0,349.02 L677.5,348.67 L678.0,348.43 L678.5,348.29 L679.0,348.25 L679.5,348.33 L680.0,348.51 L680.5,348.80 L681.0,349.18 L681.5,349.65 L682.0,350.18 L682.5,350.77 L683.0,351.39 L683.5,352.03 L684.0,352.67 L684.5,353.29 L685.0,353.88 L685.5,354.40 L686.0,354.86 L686.5,355.23 L687.0,355.51 L687.5,355.68 L688.0,355.75 L688.5,355.71 L689.0,355.55" stroke="#7d4a5e" stroke-width="2.2" fill="none"/>
<path d="M652 360V452" stroke="#1b1b1b" stroke-width="2.1" fill="none"/><path d="M648.6 452L652 464L655.4 452Z" fill="#1b1b1b"/>
<path d="M624.5 476.1H680.1V501.3H662.8V494L652.6 487L642.4 494V501.3H624.5Z" fill="#9dc6a2" stroke="#3d6648" stroke-width="1.6" stroke-linejoin="round"/>
<path d="M699.5 488.8H704.5M702 486.3V491.3" stroke="#666" stroke-width="1"/>
<path d="M730.0 481.7L739 487.5V499.7H721V487.5Z" fill="#a7b3d9" stroke="#34456b" stroke-width="1.4" stroke-linejoin="round"/>
<path d="M748.0 488.6L764.7 488.6" stroke="#1b1b1b" stroke-width="2.1" fill="none"/><path d="M764.7 492.0L776.7 488.6L764.7 485.2Z" fill="#1b1b1b"/>
<path d="M785.5 476.1H797.5L803.5 490L813.7 477L824 490L830 476.1H841.5V501.3H785.5Z" fill="#9dc6a2" stroke="#3d6648" stroke-width="1.6" stroke-linejoin="round"/>
<path d="M813.25 487.7L822.5 494V504.8H804V494Z" fill="#a7b3d9" stroke="#2a4a5a" stroke-width="1.4" stroke-linejoin="round"/>
<path d="M814 466.7V289" stroke="#1b1b1b" stroke-width="2.1" fill="none"/><path d="M810.6 289L814 277L817.4 289Z" fill="#1b1b1b"/>
<path d="M929.6 245V429" stroke="#1b1b1b" stroke-width="2.1" fill="none"/><path d="M926.2 429L929.6 441L933.0 429Z" fill="#1b1b1b"/>
<path d="M923 344.5L936.5 323M925 324L935.5 345" stroke="#dc5f4c" stroke-width="2.5" opacity="0.85" fill="none"/>
<text x="567.6" y="569.5" class="bl">B</text>
<path d="M505 1100V1531" stroke="#ebebeb" stroke-width="1"/>
<text x="303.3" y="1115.2" class="lbi" fill="#7a7a7a">lac</text>
<path d="M210.4 1149.5Q210.4 1145.7 214 1145.7H463.5Q467 1145.7 467 1149.5M338 1145.7V1124" stroke="#c9c9c9" stroke-width="1" fill="none"/>
<path d="M98 1191H158M98 1208.4H158" stroke="#5a7075" stroke-width="1.0" fill="none"/>
<rect x="104.8" y="1191" width="52.7" height="17.40000000000009" fill="#d6dfe6" stroke="#55686b" stroke-width="1.4"/>
<path d="M104.8 1190.5V1209" stroke="#1f3138" stroke-width="2.4"/>
<path d="M209.9 1190.6H474M209.9 1208.7H474" stroke="#5a7075" stroke-width="1.0" fill="none"/>
<rect x="209.9" y="1190.6" width="51.099999999999994" height="18.100000000000136" fill="#d7e3e6" stroke="#55686b" stroke-width="1.4"/>
<path d="M261 1208.7H271.2L275.7 1197.6L280.2 1208.7H292.7L297.2 1197.6L301.7 1208.7H312.3V1231.3H304.5C304.5 1225.5 300 1225.5 297.2 1225.5C294.4 1225.5 289.9 1225.5 289.9 1231.3H283C283 1225.5 278.5 1225.5 275.7 1225.5C272.9 1225.5 268.4 1225.5 268.4 1231.3H261Z" fill="#9dc6a2" stroke="#3d6648" stroke-width="1.5" stroke-linejoin="round"/>
<path d="M261 1190.6H312.3V1208.7H301.7L297.2 1197.6L292.7 1208.7H280.2L275.7 1197.6L271.2 1208.7H261Z" fill="#d6dfe6" stroke="#55686b" stroke-width="1.2" stroke-linejoin="round"/>
<path d="M261 1208.7H271.2L275.7 1197.6L280.2 1208.7H292.7L297.2 1197.6L301.7 1208.7H312.3" stroke="#1f4a3a" stroke-width="1.8" fill="none" stroke-linejoin="round"/>
<path d="M261 1190.1V1231.3" stroke="#1f3138" stroke-width="2.0"/>
<rect x="312.3" y="1190.6" width="51.80000000000001" height="18.100000000000136" fill="#f3c396" stroke="#4a4040" stroke-width="1.4"/>
<text x="338.2" y="1204.5" class="lbi" text-anchor="middle" fill="#6a4020" style="font-size:15px">lacZ</text>
<rect x="364.1" y="1190.6" width="51.099999999999966" height="18.100000000000136" fill="#f0a894" stroke="#4a4040" stroke-width="1.4"/>
<text x="389.6" y="1204.5" class="lbi" text-anchor="middle" fill="#6a3025" style="font-size:15px">lacY</text>
<rect x="415.2" y="1190.6" width="51.80000000000001" height="18.100000000000136" fill="#e6a3b0" stroke="#4a4040" stroke-width="1.4"/>
<text x="441.1" y="1204.5" class="lbi" text-anchor="middle" fill="#6a2a3a" style="font-size:15px">lacA</text>
<path d="M312.3 1190.1V1209.2" stroke="#1f3138" stroke-width="1.8"/>
<path d="M364.1 1190.1V1209.2" stroke="#1f3138" stroke-width="1.8"/>
<path d="M415.2 1190.1V1209.2" stroke="#1f3138" stroke-width="1.8"/>
<path d="M467 1190.1V1209.2" stroke="#1f3138" stroke-width="2.0"/>
<ellipse cx="244.5" cy="1198.6" rx="16.5" ry="22.3" fill="#a9c7ae" opacity="0.75" stroke="#8fb096" stroke-width="0.8"/>
<path d="M248 1212V1222" stroke="#7a8a80" stroke-width="1"/>
<path d="M263.5 1166.0L298.4 1166.0" stroke="#1d4a3a" stroke-width="2.4" fill="none"/><path d="M298.4 1169.6L309.4 1166.0L298.4 1162.4Z" fill="#1d4a3a"/>
<path d="M277.8 1175L292 1154.3M277.8 1159.4L290.7 1175" stroke="#d9604a" stroke-width="2.3" opacity="0.85" fill="none"/>
<path d="M132 1214L132 1245" stroke="#1b1b1b" stroke-width="2.1" fill="none"/>
<path d="M132 1285V1300.6" stroke="#1b1b1b" stroke-width="2.1" fill="none"/><path d="M128.6 1300.6L132 1312.6L135.4 1300.6Z" fill="#1b1b1b"/>
<path d="M98.8,1322.74 L99.3,1322.64 L99.8,1322.42 L100.3,1322.09 L100.8,1321.67 L101.3,1321.17 L101.8,1320.60 L102.3,1319.98 L102.8,1319.33 L103.3,1318.67 L103.8,1318.02 L104.3,1317.40 L104.8,1316.83 L105.3,1316.33 L105.8,1315.91 L106.3,1315.58 L106.8,1315.36 L107.3,1315.26 L107.8,1315.27 L108.3,1315.40 L108.8,1315.64 L109.3,1315.98 L109.8,1316.42 L110.3,1316.94 L110.8,1317.52 L111.3,1318.15 L111.8,1318.80 L112.3,1319.46 L112.8,1320.11 L113.3,1320.72 L113.8,1321.28 L114.3,1321.77 L114.8,1322.17 L115.3,1322.47 L115.8,1322.67 L116.3,1322.75 L116.8,1322.71 L117.3,1322.56 L117.8,1322.30 L118.3,1321.94 L118.8,1321.48 L119.3,1320.95 L119.8,1320.36 L120.3,1319.72 L120.8,1319.07 L121.3,1318.41 L121.8,1317.77 L122.3,1317.16 L122.8,1316.62 L123.3,1316.15 L123.8,1315.76 L124.3,1315.48 L124.8,1315.31 L125.3,1315.25 L125.8,1315.31 L126.3,1315.48 L126.8,1315.76 L127.3,1316.15 L127.8,1316.62 L128.3,1317.16 L128.8,1317.77 L129.3,1318.41 L129.8,1319.07 L130.3,1319.72 L130.8,1320.36 L131.3,1320.95 L131.8,1321.48 L132.3,1321.94 L132.8,1322.30 L133.3,1322.56 L133.8,1322.71 L134.3,1322.75 L134.8,1322.67 L135.3,1322.47 L135.8,1322.17 L136.3,1321.77 L136.8,1321.28 L137.3,1320.72 L137.8,1320.11 L138.3,1319.46 L138.8,1318.80 L139.3,1318.15 L139.8,1317.52 L140.3,1316.94 L140.8,1316.42 L141.3,1315.98 L141.8,1315.64 L142.3,1315.40 L142.8,1315.27 L143.3,1315.26 L143.8,1315.36 L144.3,1315.58 L144.8,1315.91 L145.3,1316.33 L145.8,1316.83 L146.3,1317.40 L146.8,1318.02 L147.3,1318.67 L147.8,1319.33 L148.3,1319.98 L148.8,1320.60 L149.3,1321.17 L149.8,1321.67 L150.3,1322.09 L150.8,1322.42 L151.3,1322.64 L151.8,1322.74 L152.3,1322.73 L152.8,1322.60 L153.3,1322.36 L153.8,1322.02 L154.3,1321.58 L154.8,1321.06 L155.3,1320.48 L155.8,1319.85 L156.3,1319.20 L156.8,1318.54 L157.3,1317.89 L157.8,1317.28 L158.3,1316.72 L158.8,1316.23 L159.3,1315.83 L159.8,1315.53 L160.3,1315.33 L160.8,1315.25 L161.3,1315.29 L161.8,1315.44 L162.3,1315.70 L162.8,1316.06 L163.3,1316.52 L163.8,1317.05 L164.3,1317.64 L164.8,1318.28 L165.3,1318.93 L165.8,1319.59" stroke="#a0506a" stroke-width="2.2" fill="none"/>
<path d="M132 1327L132 1367" stroke="#1b1b1b" stroke-width="2.1" fill="none"/>
<path d="M132 1386.6V1420" stroke="#1b1b1b" stroke-width="2.1" fill="none"/><path d="M128.6 1420L132 1432L135.4 1420Z" fill="#1b1b1b"/>
<path d="M107.1 1436.2H116.6L121.1 1427L125.6 1436.2H139L143.5 1427L148 1436.2H158V1458.2H151.5C151.5 1452 147 1451.4 143.5 1451.4C140 1451.4 135.5 1452 135.5 1458.2H129C129 1452 124.5 1451.4 121.1 1451.4C117.6 1451.4 113.1 1452 113.1 1458.2H107.1Z" fill="#9dc6a2" stroke="#3d6648" stroke-width="1.5" stroke-linejoin="round"/>
<path d="M163.9 1445.6H283.4Q287.4 1445.6 287.4 1441.6V1250" stroke="#1b1b1b" stroke-width="2.1" fill="none"/>
<path d="M287.4 1260V1250" stroke="#1b1b1b" stroke-width="2.1" fill="none"/><path d="M284.0 1250L287.4 1238L290.79999999999995 1250Z" fill="#1b1b1b"/>
<text x="54" y="1526" class="bl">A</text>
<path d="M390 1212V1336.8" stroke="#1b1b1b" stroke-width="2.1" fill="none"/><path d="M386.6 1336.8L390 1348.8L393.4 1336.8Z" fill="#1b1b1b"/>
<path d="M383.5 1288.5L396.5 1271.5M384.5 1272.5L395.5 1288.5" stroke="#d9604a" stroke-width="2.3" opacity="0.85" fill="none"/>
<path d="M911 1152H932V1185" stroke="#9a9a9a" stroke-width="1" fill="none"/>
<path d="M548 1190H607.6M548 1208H607.6" stroke="#5a7075" stroke-width="1.0" fill="none"/>
<rect x="555.6" y="1190" width="52.0" height="18" fill="#d6dfe6" stroke="#55686b" stroke-width="1.4"/>
<path d="M555.6 1189.5V1208.5" stroke="#1f3138" stroke-width="2.4"/>
<path d="M581.3 1212V1301" stroke="#1b1b1b" stroke-width="2.1" fill="none"/><path d="M577.9 1301L581.3 1313L584.6999999999999 1301Z" fill="#1b1b1b"/>
<path d="M660 1190H955M660 1208H955" stroke="#5a7075" stroke-width="1.0" fill="none"/>
<rect x="660" y="1190" width="51" height="18" fill="#d9e4e7" stroke="#55686b" stroke-width="1.4"/>
<rect x="677.8" y="1190.7" width="32.5" height="16.6" fill="#b9cdc0" opacity="0.75"/>
<path d="M711 1190H762V1208H752.3L747.8 1197.8L743.3 1208H730.2L725.7 1197.8L721.2 1208H711Z" fill="#d6dfe6" stroke="#55686b" stroke-width="1.2" stroke-linejoin="round"/>
<path d="M711 1189.5V1208.5" stroke="#1f3138" stroke-width="1.8"/>
<rect x="762" y="1190" width="51" height="18" fill="#f3c396" stroke="#4a4040" stroke-width="1.4"/>
<text x="787.5" y="1204" class="lbi" text-anchor="middle" fill="#6a4020" style="font-size:15px">lacZ</text>
<rect x="813" y="1190" width="52" height="18" fill="#f0a894" stroke="#4a4040" stroke-width="1.4"/>
<text x="839.0" y="1204" class="lbi" text-anchor="middle" fill="#6a3025" style="font-size:15px">lacY</text>
<rect x="865" y="1190" width="52" height="18" fill="#e6a3b0" stroke="#4a4040" stroke-width="1.4"/>
<text x="891.0" y="1204" class="lbi" text-anchor="middle" fill="#6a2a3a" style="font-size:15px">lacA</text>
<path d="M762 1189.5V1208.5" stroke="#1f3138" stroke-width="1.8"/>
<path d="M813 1189.5V1208.5" stroke="#1f3138" stroke-width="1.8"/>
<path d="M865 1189.5V1208.5" stroke="#1f3138" stroke-width="1.8"/>
<ellipse cx="933.5" cy="1198.3" rx="16.5" ry="22.8" fill="#a9c7ae" opacity="0.8" stroke="#8fb096" stroke-width="0.8"/>
<path d="M711.0 1179.0L905.8 1179.0" stroke="#1d4a3a" stroke-width="2.4" fill="none"/><path d="M905.8 1182.8L917.8 1179.0L905.8 1175.2Z" fill="#1d4a3a"/>
<path d="M736.4 1273V1227.5" stroke="#1b1b1b" stroke-width="2.1" fill="none"/><path d="M733.0 1227.5L736.4 1215.5L739.8 1227.5Z" fill="#1b1b1b"/>
<path d="M736.4 1274V1273.8Q736.4 1277.8 732.4 1277.8H685Q681 1277.8 681 1281.8V1348" stroke="#1b1b1b" stroke-width="2.1" fill="none"/>
<path d="M703.5 1289.5L716.5 1272.5M704.5 1273.5L715.5 1289.5" stroke="#d9604a" stroke-width="2.3" opacity="0.85" fill="none"/>
<path d="M840 1212V1297" stroke="#1b1b1b" stroke-width="2.1" fill="none"/><path d="M836.6 1297L840 1309L843.4 1297Z" fill="#1b1b1b"/>
<defs><linearGradient id="gl" x1="762" x2="920" y1="0" y2="0" gradientUnits="userSpaceOnUse"><stop offset="0" stop-color="#d8a060"/><stop offset="0.33" stop-color="#d89070"/><stop offset="0.5" stop-color="#d86a70"/><stop offset="0.75" stop-color="#c86a88"/><stop offset="1" stop-color="#c07090"/></linearGradient></defs>
<path d="M762.2,1323.25 L762.7,1323.30 L763.2,1323.19 L763.7,1322.93 L764.2,1322.54 L764.7,1322.01 L765.2,1321.38 L765.7,1320.66 L766.2,1319.88 L766.7,1319.06 L767.2,1318.24 L767.7,1317.45 L768.2,1316.70 L768.7,1316.03 L769.2,1315.46 L769.7,1315.01 L770.2,1314.70 L770.7,1314.53 L771.2,1314.51 L771.7,1314.65 L772.2,1314.94 L772.7,1315.36 L773.2,1315.91 L773.7,1316.56 L774.2,1317.29 L774.7,1318.08 L775.2,1318.90 L775.7,1319.72 L776.2,1320.51 L776.7,1321.24 L777.2,1321.89 L777.7,1322.44 L778.2,1322.86 L778.7,1323.15 L779.2,1323.29 L779.7,1323.27 L780.2,1323.10 L780.7,1322.79 L781.2,1322.34 L781.7,1321.77 L782.2,1321.10 L782.7,1320.35 L783.2,1319.56 L783.7,1318.74 L784.2,1317.92 L784.7,1317.14 L785.2,1316.42 L785.7,1315.79 L786.2,1315.26 L786.7,1314.87 L787.2,1314.61 L787.7,1314.50 L788.2,1314.55 L788.7,1314.75 L789.2,1315.09 L789.7,1315.56 L790.2,1316.16 L790.7,1316.84 L791.2,1317.60 L791.7,1318.41 L792.2,1319.23 L792.7,1320.04 L793.2,1320.81 L793.7,1321.51 L794.2,1322.13 L794.7,1322.63 L795.2,1323.00 L795.7,1323.22 L796.2,1323.30 L796.7,1323.22 L797.2,1323.00 L797.7,1322.63 L798.2,1322.13 L798.7,1321.51 L799.2,1320.81 L799.7,1320.04 L800.2,1319.23 L800.7,1318.41 L801.2,1317.60 L801.7,1316.84 L802.2,1316.16 L802.7,1315.56 L803.2,1315.09 L803.7,1314.75 L804.2,1314.55 L804.7,1314.50 L805.2,1314.61 L805.7,1314.87 L806.2,1315.26 L806.7,1315.79 L807.2,1316.42 L807.7,1317.14 L808.2,1317.92 L808.7,1318.74 L809.2,1319.56 L809.7,1320.35 L810.2,1321.10 L810.7,1321.77 L811.2,1322.34 L811.7,1322.79 L812.2,1323.10 L812.7,1323.27 L813.2,1323.29 L813.7,1323.15 L814.2,1322.86 L814.7,1322.44 L815.2,1321.89 L815.7,1321.24 L816.2,1320.51 L816.7,1319.72 L817.2,1318.90 L817.7,1318.08 L818.2,1317.29 L818.7,1316.56 L819.2,1315.91 L819.7,1315.36 L820.2,1314.94 L820.7,1314.65 L821.2,1314.51 L821.7,1314.53 L822.2,1314.70 L822.7,1315.01 L823.2,1315.46 L823.7,1316.03 L824.2,1316.70 L824.7,1317.45 L825.2,1318.24 L825.7,1319.06 L826.2,1319.88 L826.7,1320.66 L827.2,1321.38 L827.7,1322.01 L828.2,1322.54 L828.7,1322.93 L829.2,1323.19 L829.7,1323.30 L830.2,1323.25 L830.7,1323.05 L831.2,1322.71 L831.7,1322.24 L832.2,1321.64 L832.7,1320.96 L833.2,1320.20 L833.7,1319.39 L834.2,1318.57 L834.7,1317.76 L835.2,1316.99 L835.7,1316.29 L836.2,1315.67 L836.7,1315.17 L837.2,1314.80 L837.7,1314.58 L838.2,1314.50 L838.7,1314.58 L839.2,1314.80 L839.7,1315.17 L840.2,1315.67 L840.7,1316.29 L841.2,1316.99 L841.7,1317.76 L842.2,1318.57 L842.7,1319.39 L843.2,1320.20 L843.7,1320.96 L844.2,1321.64 L844.7,1322.24 L845.2,1322.71 L845.7,1323.05 L846.2,1323.25 L846.7,1323.30 L847.2,1323.19 L847.7,1322.93 L848.2,1322.54 L848.7,1322.01 L849.2,1321.38 L849.7,1320.66 L850.2,1319.88 L850.7,1319.06 L851.2,1318.24 L851.7,1317.45 L852.2,1316.70 L852.7,1316.03 L853.2,1315.46 L853.7,1315.01 L854.2,1314.70 L854.7,1314.53 L855.2,1314.51 L855.7,1314.65 L856.2,1314.94 L856.7,1315.36 L857.2,1315.91 L857.7,1316.56 L858.2,1317.29 L858.7,1318.08 L859.2,1318.90 L859.7,1319.72 L860.2,1320.51 L860.7,1321.24 L861.2,1321.89 L861.7,1322.44 L862.2,1322.86 L862.7,1323.15 L863.2,1323.29 L863.7,1323.27 L864.2,1323.10 L864.7,1322.79 L865.2,1322.34 L865.7,1321.77 L866.2,1321.10 L866.7,1320.35 L867.2,1319.56 L867.7,1318.74 L868.2,1317.92 L868.7,1317.14 L869.2,1316.42 L869.7,1315.79 L870.2,1315.26 L870.7,1314.87 L871.2,1314.61 L871.7,1314.50 L872.2,1314.55 L872.7,1314.75 L873.2,1315.09 L873.7,1315.56 L874.2,1316.16 L874.7,1316.84 L875.2,1317.60 L875.7,1318.41 L876.2,1319.23 L876.7,1320.04 L877.2,1320.81 L877.7,1321.51 L878.2,1322.13 L878.7,1322.63 L879.2,1323.00 L879.7,1323.22 L880.2,1323.30 L880.7,1323.22 L881.2,1323.00 L881.7,1322.63 L882.2,1322.13 L882.7,1321.51 L883.2,1320.81 L883.7,1320.04 L884.2,1319.23 L884.7,1318.41 L885.2,1317.60 L885.7,1316.84 L886.2,1316.16 L886.7,1315.56 L887.2,1315.09 L887.7,1314.75 L888.2,1314.55 L888.7,1314.50 L889.2,1314.61 L889.7,1314.87 L890.2,1315.26 L890.7,1315.79 L891.2,1316.42 L891.7,1317.14 L892.2,1317.92 L892.7,1318.74 L893.2,1319.56 L893.7,1320.35 L894.2,1321.10 L894.7,1321.77 L895.2,1322.34 L895.7,1322.79 L896.2,1323.10 L896.7,1323.27 L897.2,1323.29 L897.7,1323.15 L898.2,1322.86 L898.7,1322.44 L899.2,1321.89 L899.7,1321.24 L900.2,1320.51 L900.7,1319.72 L901.2,1318.90 L901.7,1318.08 L902.2,1317.29 L902.7,1316.56 L903.2,1315.91 L903.7,1315.36 L904.2,1314.94 L904.7,1314.65 L905.2,1314.51 L905.7,1314.53 L906.2,1314.70 L906.7,1315.01 L907.2,1315.46 L907.7,1316.03 L908.2,1316.70 L908.7,1317.45 L909.2,1318.24 L909.7,1319.06 L910.2,1319.88 L910.7,1320.66 L911.2,1321.38 L911.7,1322.01 L912.2,1322.54 L912.7,1322.93 L913.2,1323.19 L913.7,1323.30 L914.2,1323.25 L914.7,1323.05 L915.2,1322.71 L915.7,1322.24 L916.2,1321.64 L916.7,1320.96 L917.2,1320.20 L917.7,1319.39 L918.2,1318.57 L918.7,1317.76 L919.2,1316.99" stroke="#8a5a50" stroke-width="3.6" fill="none" stroke-linecap="round"/>
<path d="M762.2,1323.25 L762.7,1323.30 L763.2,1323.19 L763.7,1322.93 L764.2,1322.54 L764.7,1322.01 L765.2,1321.38 L765.7,1320.66 L766.2,1319.88 L766.7,1319.06 L767.2,1318.24 L767.7,1317.45 L768.2,1316.70 L768.7,1316.03 L769.2,1315.46 L769.7,1315.01 L770.2,1314.70 L770.7,1314.53 L771.2,1314.51 L771.7,1314.65 L772.2,1314.94 L772.7,1315.36 L773.2,1315.91 L773.7,1316.56 L774.2,1317.29 L774.7,1318.08 L775.2,1318.90 L775.7,1319.72 L776.2,1320.51 L776.7,1321.24 L777.2,1321.89 L777.7,1322.44 L778.2,1322.86 L778.7,1323.15 L779.2,1323.29 L779.7,1323.27 L780.2,1323.10 L780.7,1322.79 L781.2,1322.34 L781.7,1321.77 L782.2,1321.10 L782.7,1320.35 L783.2,1319.56 L783.7,1318.74 L784.2,1317.92 L784.7,1317.14 L785.2,1316.42 L785.7,1315.79 L786.2,1315.26 L786.7,1314.87 L787.2,1314.61 L787.7,1314.50 L788.2,1314.55 L788.7,1314.75 L789.2,1315.09 L789.7,1315.56 L790.2,1316.16 L790.7,1316.84 L791.2,1317.60 L791.7,1318.41 L792.2,1319.23 L792.7,1320.04 L793.2,1320.81 L793.7,1321.51 L794.2,1322.13 L794.7,1322.63 L795.2,1323.00 L795.7,1323.22 L796.2,1323.30 L796.7,1323.22 L797.2,1323.00 L797.7,1322.63 L798.2,1322.13 L798.7,1321.51 L799.2,1320.81 L799.7,1320.04 L800.2,1319.23 L800.7,1318.41 L801.2,1317.60 L801.7,1316.84 L802.2,1316.16 L802.7,1315.56 L803.2,1315.09 L803.7,1314.75 L804.2,1314.55 L804.7,1314.50 L805.2,1314.61 L805.7,1314.87 L806.2,1315.26 L806.7,1315.79 L807.2,1316.42 L807.7,1317.14 L808.2,1317.92 L808.7,1318.74 L809.2,1319.56 L809.7,1320.35 L810.2,1321.10 L810.7,1321.77 L811.2,1322.34 L811.7,1322.79 L812.2,1323.10 L812.7,1323.27 L813.2,1323.29 L813.7,1323.15 L814.2,1322.86 L814.7,1322.44 L815.2,1321.89 L815.7,1321.24 L816.2,1320.51 L816.7,1319.72 L817.2,1318.90 L817.7,1318.08 L818.2,1317.29 L818.7,1316.56 L819.2,1315.91 L819.7,1315.36 L820.2,1314.94 L820.7,1314.65 L821.2,1314.51 L821.7,1314.53 L822.2,1314.70 L822.7,1315.01 L823.2,1315.46 L823.7,1316.03 L824.2,1316.70 L824.7,1317.45 L825.2,1318.24 L825.7,1319.06 L826.2,1319.88 L826.7,1320.66 L827.2,1321.38 L827.7,1322.01 L828.2,1322.54 L828.7,1322.93 L829.2,1323.19 L829.7,1323.30 L830.2,1323.25 L830.7,1323.05 L831.2,1322.71 L831.7,1322.24 L832.2,1321.64 L832.7,1320.96 L833.2,1320.20 L833.7,1319.39 L834.2,1318.57 L834.7,1317.76 L835.2,1316.99 L835.7,1316.29 L836.2,1315.67 L836.7,1315.17 L837.2,1314.80 L837.7,1314.58 L838.2,1314.50 L838.7,1314.58 L839.2,1314.80 L839.7,1315.17 L840.2,1315.67 L840.7,1316.29 L841.2,1316.99 L841.7,1317.76 L842.2,1318.57 L842.7,1319.39 L843.2,1320.20 L843.7,1320.96 L844.2,1321.64 L844.7,1322.24 L845.2,1322.71 L845.7,1323.05 L846.2,1323.25 L846.7,1323.30 L847.2,1323.19 L847.7,1322.93 L848.2,1322.54 L848.7,1322.01 L849.2,1321.38 L849.7,1320.66 L850.2,1319.88 L850.7,1319.06 L851.2,1318.24 L851.7,1317.45 L852.2,1316.70 L852.7,1316.03 L853.2,1315.46 L853.7,1315.01 L854.2,1314.70 L854.7,1314.53 L855.2,1314.51 L855.7,1314.65 L856.2,1314.94 L856.7,1315.36 L857.2,1315.91 L857.7,1316.56 L858.2,1317.29 L858.7,1318.08 L859.2,1318.90 L859.7,1319.72 L860.2,1320.51 L860.7,1321.24 L861.2,1321.89 L861.7,1322.44 L862.2,1322.86 L862.7,1323.15 L863.2,1323.29 L863.7,1323.27 L864.2,1323.10 L864.7,1322.79 L865.2,1322.34 L865.7,1321.77 L866.2,1321.10 L866.7,1320.35 L867.2,1319.56 L867.7,1318.74 L868.2,1317.92 L868.7,1317.14 L869.2,1316.42 L869.7,1315.79 L870.2,1315.26 L870.7,1314.87 L871.2,1314.61 L871.7,1314.50 L872.2,1314.55 L872.7,1314.75 L873.2,1315.09 L873.7,1315.56 L874.2,1316.16 L874.7,1316.84 L875.2,1317.60 L875.7,1318.41 L876.2,1319.23 L876.7,1320.04 L877.2,1320.81 L877.7,1321.51 L878.2,1322.13 L878.7,1322.63 L879.2,1323.00 L879.7,1323.22 L880.2,1323.30 L880.7,1323.22 L881.2,1323.00 L881.7,1322.63 L882.2,1322.13 L882.7,1321.51 L883.2,1320.81 L883.7,1320.04 L884.2,1319.23 L884.7,1318.41 L885.2,1317.60 L885.7,1316.84 L886.2,1316.16 L886.7,1315.56 L887.2,1315.09 L887.7,1314.75 L888.2,1314.55 L888.7,1314.50 L889.2,1314.61 L889.7,1314.87 L890.2,1315.26 L890.7,1315.79 L891.2,1316.42 L891.7,1317.14 L892.2,1317.92 L892.7,1318.74 L893.2,1319.56 L893.7,1320.35 L894.2,1321.10 L894.7,1321.77 L895.2,1322.34 L895.7,1322.79 L896.2,1323.10 L896.7,1323.27 L897.2,1323.29 L897.7,1323.15 L898.2,1322.86 L898.7,1322.44 L899.2,1321.89 L899.7,1321.24 L900.2,1320.51 L900.7,1319.72 L901.2,1318.90 L901.7,1318.08 L902.2,1317.29 L902.7,1316.56 L903.2,1315.91 L903.7,1315.36 L904.2,1314.94 L904.7,1314.65 L905.2,1314.51 L905.7,1314.53 L906.2,1314.70 L906.7,1315.01 L907.2,1315.46 L907.7,1316.03 L908.2,1316.70 L908.7,1317.45 L909.2,1318.24 L909.7,1319.06 L910.2,1319.88 L910.7,1320.66 L911.2,1321.38 L911.7,1322.01 L912.2,1322.54 L912.7,1322.93 L913.2,1323.19 L913.7,1323.30 L914.2,1323.25 L914.7,1323.05 L915.2,1322.71 L915.7,1322.24 L916.2,1321.64 L916.7,1320.96 L917.2,1320.20 L917.7,1319.39 L918.2,1318.57 L918.7,1317.76 L919.2,1316.99" stroke="url(#gl)" stroke-width="2" fill="none" stroke-linecap="round"/>
<path d="M788.4 1325.6V1356.9" stroke="#1b1b1b" stroke-width="2.1" fill="none"/><path d="M785.0 1356.9L788.4 1368.9L791.8 1356.9Z" fill="#1b1b1b"/>
<path d="M840 1325.6V1356.9" stroke="#1b1b1b" stroke-width="2.1" fill="none"/><path d="M836.6 1356.9L840 1368.9L843.4 1356.9Z" fill="#1b1b1b"/>
<path d="M891.6 1325.6V1356.9" stroke="#1b1b1b" stroke-width="2.1" fill="none"/><path d="M888.2 1356.9L891.6 1368.9L895.0 1356.9Z" fill="#1b1b1b"/>
<path d="M788.4,1394.9 C792.1,1390.7 795.7,1388.8 799.4,1388.8 C804.3,1388.8 806.8,1391.9 806.8,1394.9 C806.8,1398.0 804.9,1399.8 804.9,1401.6 C804.9,1403.4 806.8,1405.2 806.8,1408.3 C806.8,1412.5 803.1,1414.3 799.4,1414.3 L777.4,1414.3 C773.7,1414.3 770.0,1412.5 770.0,1408.3 C770.0,1405.2 771.9,1403.4 771.9,1401.6 C771.9,1399.8 770.0,1398.0 770.0,1394.9 C770.0,1391.9 772.5,1388.8 777.4,1388.8 C781.1,1388.8 784.7,1390.7 788.4,1394.9Z" fill="#f3c192" stroke="#8a6040" stroke-width="1.4"/>
<path d="M840.0,1394.9 C843.7,1390.7 847.3,1388.8 851.0,1388.8 C855.9,1388.8 858.4,1391.9 858.4,1394.9 C858.4,1398.0 856.5,1399.8 856.5,1401.6 C856.5,1403.4 858.4,1405.2 858.4,1408.3 C858.4,1412.5 854.7,1414.3 851.0,1414.3 L829.0,1414.3 C825.3,1414.3 821.6,1412.5 821.6,1408.3 C821.6,1405.2 823.5,1403.4 823.5,1401.6 C823.5,1399.8 821.6,1398.0 821.6,1394.9 C821.6,1391.9 824.1,1388.8 829.0,1388.8 C832.7,1388.8 836.3,1390.7 840.0,1394.9Z" fill="#efa58f" stroke="#8a5040" stroke-width="1.4"/>
<path d="M891.8,1394.9 C895.5,1390.7 899.1,1388.8 902.8,1388.8 C907.7,1388.8 910.1,1391.9 910.1,1394.9 C910.1,1398.0 908.3,1399.8 908.3,1401.6 C908.3,1403.4 910.1,1405.2 910.1,1408.3 C910.1,1412.5 906.5,1414.3 902.8,1414.3 L880.8,1414.3 C877.1,1414.3 873.4,1412.5 873.4,1408.3 C873.4,1405.2 875.3,1403.4 875.3,1401.6 C875.3,1399.8 873.4,1398.0 873.4,1394.9 C873.4,1391.9 875.9,1388.8 880.8,1388.8 C884.5,1388.8 888.1,1390.7 891.8,1394.9Z" fill="#e2a0b5" stroke="#7a4060" stroke-width="1.4"/>
<path d="M792.6 1419.5L824.3 1457.8" stroke="#1b1b1b" stroke-width="2.1" fill="none"/><path d="M821.7 1459.9L832.0 1467.0L827.0 1455.6Z" fill="#1b1b1b"/>
<path d="M840.0 1419.5L840.0 1455.0" stroke="#1b1b1b" stroke-width="2.1" fill="none"/><path d="M836.6 1455.0L840.0 1467.0L843.4 1455.0Z" fill="#1b1b1b"/>
<path d="M887.5 1419.5L855.1 1457.8" stroke="#1b1b1b" stroke-width="2.1" fill="none"/><path d="M852.5 1455.6L847.3 1467.0L857.6 1460.0Z" fill="#1b1b1b"/>
<path d="M866.2 1473.8L642.1 1473.8" stroke="#1b1b1b" stroke-width="2.1" fill="none"/><path d="M642.1 1470.4L630.1 1473.8L642.1 1477.2Z" fill="#1b1b1b"/>
<path d="M850 1471.5C740 1469 650 1462 608 1434" stroke="#333" stroke-width="1.6" stroke-dasharray="2.2 2.2" fill="none"/>
<path d="M610.0 1435.5L607.0 1433.4" stroke="#1b1b1b" stroke-width="1.6" fill="none"/><path d="M609.0 1430.6L599.7 1428.2L605.1 1436.2Z" fill="#1b1b1b"/>
<path d="M889 1473.8L893.6 1473.8" stroke="#34486e" stroke-width="1.4" fill="none"/>
<path d="M889.5,1473.8 L884.7,1482.1 L875.1,1482.1 L870.3,1473.8 L875.1,1465.5 L884.7,1465.5Z" fill="#95a6d6" stroke="#34486e" stroke-width="1.4" stroke-linejoin="round"/>
<path d="M912.3,1473.8 L907.5,1482.1 L897.9,1482.1 L893.1,1473.8 L897.9,1465.5 L907.5,1465.5Z" fill="#95a6d6" stroke="#34486e" stroke-width="1.4" stroke-linejoin="round"/>
<path d="M557.7,1473.6 L553.0,1481.7 L543.6,1481.7 L538.9,1473.6 L543.6,1465.5 L553.0,1465.5Z" fill="#95a6d6" stroke="#34486e" stroke-width="1.4" stroke-linejoin="round"/>
<path d="M626.1,1473.6 L621.4,1481.7 L612.0,1481.7 L607.3,1473.6 L612.0,1465.5 L621.4,1465.5Z" fill="#95a6d6" stroke="#34486e" stroke-width="1.4" stroke-linejoin="round"/>
<circle cx="582.6" cy="1474" r="1.2" fill="#555"/>
<text x="517" y="1526" class="bl">B</text>
<path d="M549.0,1322.31 L549.5,1322.08 L550.0,1321.73 L550.5,1321.29 L551.0,1320.77 L551.5,1320.17 L552.0,1319.53 L552.5,1318.87 L553.0,1318.20 L553.5,1317.54 L554.0,1316.92 L554.5,1316.36 L555.0,1315.88 L555.5,1315.48 L556.0,1315.19 L556.5,1315.01 L557.0,1314.95 L557.5,1315.01 L558.0,1315.19 L558.5,1315.48 L559.0,1315.88 L559.5,1316.36 L560.0,1316.92 L560.5,1317.54 L561.0,1318.20 L561.5,1318.87 L562.0,1319.53 L562.5,1320.17 L563.0,1320.77 L563.5,1321.29 L564.0,1321.73 L564.5,1322.08 L565.0,1322.31 L565.5,1322.43 L566.0,1322.43 L566.5,1322.31 L567.0,1322.08 L567.5,1321.73 L568.0,1321.29 L568.5,1320.77 L569.0,1320.17 L569.5,1319.53 L570.0,1318.87 L570.5,1318.20 L571.0,1317.54 L571.5,1316.92 L572.0,1316.36 L572.5,1315.88 L573.0,1315.48 L573.5,1315.19 L574.0,1315.01 L574.5,1314.95 L575.0,1315.01 L575.5,1315.19 L576.0,1315.48 L576.5,1315.88 L577.0,1316.36 L577.5,1316.92 L578.0,1317.54 L578.5,1318.20 L579.0,1318.87 L579.5,1319.53 L580.0,1320.17 L580.5,1320.77 L581.0,1321.29 L581.5,1321.73 L582.0,1322.08 L582.5,1322.31 L583.0,1322.43 L583.5,1322.43 L584.0,1322.31 L584.5,1322.08 L585.0,1321.73 L585.5,1321.29 L586.0,1320.77 L586.5,1320.17 L587.0,1319.53 L587.5,1318.87 L588.0,1318.20 L588.5,1317.54 L589.0,1316.92 L589.5,1316.36 L590.0,1315.88 L590.5,1315.48 L591.0,1315.19 L591.5,1315.01 L592.0,1314.95 L592.5,1315.01 L593.0,1315.19 L593.5,1315.48 L594.0,1315.88 L594.5,1316.36 L595.0,1316.92 L595.5,1317.54 L596.0,1318.20 L596.5,1318.87 L597.0,1319.53 L597.5,1320.17 L598.0,1320.77 L598.5,1321.29 L599.0,1321.73 L599.5,1322.08 L600.0,1322.31 L600.5,1322.43 L601.0,1322.43 L601.5,1322.31 L602.0,1322.08 L602.5,1321.73 L603.0,1321.29 L603.5,1320.77 L604.0,1320.17 L604.5,1319.53 L605.0,1318.87 L605.5,1318.20 L606.0,1317.54 L606.5,1316.92 L607.0,1316.36 L607.5,1315.88 L608.0,1315.48 L608.5,1315.19 L609.0,1315.01 L609.5,1314.95 L610.0,1315.01 L610.5,1315.19 L611.0,1315.48 L611.5,1315.88 L612.0,1316.36 L612.5,1316.92 L613.0,1317.54 L613.5,1318.20 L614.0,1318.87 L614.5,1319.53 L615.0,1320.17 L615.5,1320.77 L616.0,1321.29" stroke="#a0506a" stroke-width="2.2" fill="none"/>
<path d="M581.3 1326.7V1368" stroke="#1b1b1b" stroke-width="2.1" fill="none"/><path d="M577.9 1368L581.3 1380L584.6999999999999 1368Z" fill="#1b1b1b"/>
<path d="M557 1386.7H567.2L571.7 1377.5L576.2 1386.7H588.8L593.3 1377.5L597.8 1386.7H608V1409.7H601C601 1403.8 596.8 1403.3 593.3 1403.3C589.8 1403.3 585.6 1403.8 585.6 1409.7H579.4C579.4 1403.8 575.2 1403.3 571.7 1403.3C568.2 1403.3 564 1403.8 564 1409.7H557Z" fill="#9dc6a2" stroke="#3d6648" stroke-width="1.5" stroke-linejoin="round"/>
<path d="M555.8 1394.7H570.8" stroke="#4a6a55" stroke-width="1"/>
<path d="M580 1420.5L585 1420.5" stroke="#34486e" stroke-width="1.4" fill="none"/>
<path d="M580.0,1420.5 L575.4,1428.5 L566.2,1428.5 L561.6,1420.5 L566.2,1412.5 L575.4,1412.5Z" fill="#95a6d6" stroke="#34486e" stroke-width="1.4" stroke-linejoin="round"/>
<path d="M603.4,1420.5 L598.8,1428.5 L589.6,1428.5 L585.0,1420.5 L589.6,1412.5 L598.8,1412.5Z" fill="#95a6d6" stroke="#34486e" stroke-width="1.4" stroke-linejoin="round"/>
<path d="M613.3 1395.8L639.3 1395.8" stroke="#1b1b1b" stroke-width="2.1" fill="none"/><path d="M639.3 1399.2L651.3 1395.8L639.3 1392.4Z" fill="#1b1b1b"/>
<rect x="655.8" y="1386.7" width="50.9" height="23" fill="#9dc6a2" stroke="#3d6648" stroke-width="1.5"/>
<path d="M678 1413.3L684 1413.3" stroke="#34486e" stroke-width="1.4" fill="none"/>
<path d="M678.7,1413.3 L674.0,1421.5 L664.5,1421.5 L659.7,1413.3 L664.5,1405.1 L674.0,1405.1Z" fill="#95a6d6" stroke="#34486e" stroke-width="1.4" stroke-linejoin="round"/>
<path d="M702.8,1413.3 L698.0,1421.5 L688.5,1421.5 L683.8,1413.3 L688.5,1405.1 L698.0,1405.1Z" fill="#95a6d6" stroke="#34486e" stroke-width="1.4" stroke-linejoin="round"/>
<text x="346.7" y="123.3" class="lb" textLength="52.3" fill="#8a8a8a" style="fill:#8a8a8a">Operon</text>
<text x="95.5" y="215" class="lb" textLength="94.5">Regulatorgen</text>
<text x="199.5" y="215" class="lb dk" textLength="65.5">Promotor</text>
<text x="271" y="215" class="lb dk" textLength="62.3">Operator</text>
<text x="371.7" y="215" class="lb dk" textLength="95">Strukturgene</text>
<text x="55.7" y="236" class="lb" textLength="31.3" lengthAdjust="spacingAndGlyphs">DNA</text>
<text x="91" y="293" class="lb lt" textLength="99">Transkription</text>
<text x="56" y="359" class="lb dk" textLength="45.7">mRNA</text>
<text x="101" y="420" class="lb lt" textLength="80">Translation</text>
<text x="109" y="519.7" class="lb lt" textLength="64">inaktiver</text>
<text x="106.5" y="538.5" class="lb lt" textLength="69">Repressor</text>
<text x="435.5" y="276.7" class="lb dk" textLength="66.5">RNA Poly</text>
<text x="435.5" y="295.5" class="lb dk" textLength="51">merase</text>
<text x="280" y="359" class="lb dk" textLength="46">mRNA</text>
<text x="280" y="520.5" class="lb lt" textLength="60.5">Vorstufe</text>
<text x="476" y="520" class="lb lt" textLength="46.5">Trypto</text>
<text x="483.6" y="538.6" class="lb lt" textLength="34.4">phan</text>
<text x="672.7" y="181.7" class="lb dk" textLength="67">RNA Poly</text>
<text x="672.7" y="200" class="lb dk" textLength="51">merase</text>
<text x="566" y="237" class="lb dk" textLength="32" lengthAdjust="spacingAndGlyphs">DNA</text>
<text x="564" y="359" class="lb dk" textLength="46">mRNA</text>
<text x="910" y="457" class="lb dk" textLength="39">keine</text>
<text x="871.8" y="477" class="lb dk" textLength="114">Enzymsynthese</text>
<text x="618.5" y="520" class="lb dk" textLength="66.5">inaktiver</text>
<text x="616" y="538" class="lb dk" textLength="71.5">Repressor</text>
<text x="706.5" y="520" class="lb dk" textLength="46.3">Trypto</text>
<text x="714" y="538" class="lb dk" textLength="35">phan</text>
<text x="788.4" y="520" class="lb dk" textLength="52.3">aktiver</text>
<text x="779" y="538" class="lb dk" textLength="71">Repressor</text>
<text x="326" y="1115.2" class="lb" textLength="47.8" style="fill:#7a7a7a">Operon</text>
<text x="71" y="1185" class="lb" textLength="87">Regulatorgen</text>
<text x="168" y="1185" class="lb dk" textLength="60">Promotor</text>
<text x="257" y="1185" class="lb dk" textLength="58">Operator</text>
<text x="346.8" y="1185" class="lb dk" textLength="88">Strukturgene</text>
<text x="54" y="1204" class="lb dk" textLength="29" lengthAdjust="spacingAndGlyphs">DNA</text>
<text x="112.7" y="1262" class="lb lt" textLength="35.7">Trans</text>
<text x="106" y="1280.6" class="lb lt" textLength="52.4">kription</text>
<text x="175.8" y="1246.7" class="lb dk" textLength="62" lengthAdjust="spacingAndGlyphs">RNA Poly</text>
<text x="175.8" y="1263" class="lb dk" textLength="47">merase</text>
<text x="54" y="1336.6" class="lb dk" textLength="42" lengthAdjust="spacingAndGlyphs">mRNA</text>
<text x="96.2" y="1382" class="lb lt" textLength="73">Translation</text>
<text x="109" y="1480" class="lb lt" textLength="46">aktiver</text>
<text x="99.6" y="1497.6" class="lb lt" textLength="63">Repressor</text>
<text x="373" y="1363.5" class="lb lt" textLength="34.7">keine</text>
<text x="338" y="1381" class="lb lt" textLength="104.5">Enzymsynthese</text>
<text x="798.7" y="1155.6" class="lb" textLength="110.3">RNA Polymerase</text>
<text x="517" y="1204" class="lb dk" textLength="29.7" lengthAdjust="spacingAndGlyphs">DNA</text>
<text x="915" y="1336.2" class="lb dk" textLength="41.7" lengthAdjust="spacingAndGlyphs">mRNA</text>
<text x="749.3" y="1381.6" class="lb" textLength="181.4">Lactose abbauende Enzyme</text>
<text x="515.6" y="1497" class="lb lt" textLength="64.4">Galactose</text>
<text x="590" y="1497" class="lb lt" textLength="51">Glucose</text>
<text x="722" y="1497" class="lb lt" textLength="43">Abbau</text>
<text x="866.7" y="1497" class="lb lt" textLength="50.3">Lactose</text>
<text x="515.6" y="1336" class="lb dk" textLength="41.4" lengthAdjust="spacingAndGlyphs">mRNA</text>
<text x="515.6" y="1364.4" class="lb lt" textLength="46.4">aktiver</text>
<text x="515.6" y="1382" class="lb lt" textLength="44.4">Repres</text>
<text x="515.6" y="1398.7" class="lb lt" textLength="17.7" lengthAdjust="spacingAndGlyphs">sor</text>
<text x="651" y="1364.4" class="lb dk" textLength="60">inaktiver</text>
<text x="649" y="1382" class="lb dk" textLength="64">Repressor</text>
<text x="517" y="1443.4" class="lb lt" textLength="48" lengthAdjust="spacingAndGlyphs">Lactose</text>

</svg>
</body></html>
